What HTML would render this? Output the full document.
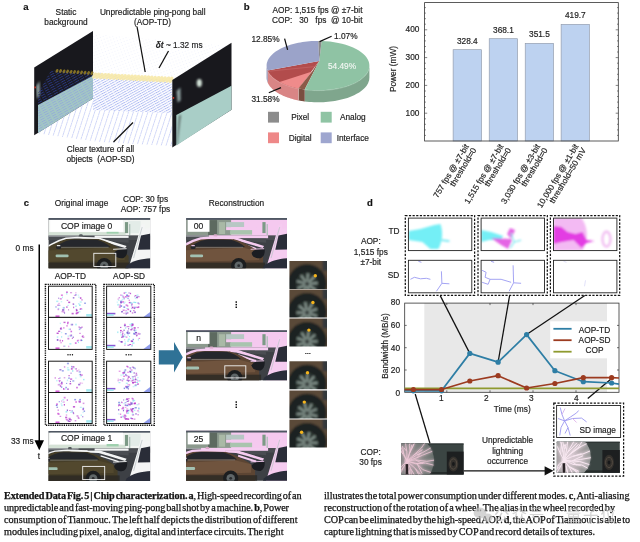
<!DOCTYPE html>
<html lang="en"><head><meta charset="utf-8"><title>Extended Data Fig. 5</title>
<style>html,body{margin:0;padding:0;background:#fff;}body{width:640px;height:542px;overflow:hidden;}svg{display:block;font-family:"Liberation Sans","Noto Sans CJK SC",sans-serif;}text{stroke:#222;stroke-width:0.18px;paint-order:stroke;}</style></head>
<body>
<svg width="640" height="542" viewBox="0 0 640 542">
<rect width="640" height="542" fill="#fff"/>
<defs>
<filter id="b03" x="-5%" y="-5%" width="110%" height="110%"><feGaussianBlur stdDeviation="0.35"/></filter>
<filter id="b06" x="-5%" y="-5%" width="110%" height="110%"><feGaussianBlur stdDeviation="0.8"/></filter>
<filter id="b08" x="-5%" y="-5%" width="110%" height="110%"><feGaussianBlur stdDeviation="0.8"/></filter>
<filter id="b1" x="-10%" y="-10%" width="120%" height="120%"><feGaussianBlur stdDeviation="1"/></filter>
<filter id="b2" x="-20%" y="-20%" width="140%" height="140%"><feGaussianBlur stdDeviation="2"/></filter>
<pattern id="dots" width="2.6" height="2.2" patternUnits="userSpaceOnUse" patternTransform="rotate(-32)">
 <rect x="0" y="0" width="1.5" height="0.7" fill="#7f8fe6"/>
</pattern>
<pattern id="dotsU" width="6" height="2.3" patternUnits="userSpaceOnUse" patternTransform="rotate(-29)">
 <rect x="0" y="0" width="6" height="0.9" fill="#a3b0f0"/><rect x="0" y="0" width="1" height="0.9" fill="#dfe4fb"/><rect x="3" y="0" width="0.8" height="0.9" fill="#c9d0f6"/>
</pattern>
<pattern id="dotsL" width="5" height="4.6" patternUnits="userSpaceOnUse" patternTransform="rotate(-72)">
 <rect x="0" y="0" width="5" height="0.8" fill="#bcc6f4"/><rect x="0" y="0" width="1.2" height="0.8" fill="#e6e9fc"/><rect x="2.8" y="0" width="0.8" height="0.8" fill="#dfe4fb"/>
</pattern>
<pattern id="dotsD" width="6" height="2.3" patternUnits="userSpaceOnUse" patternTransform="rotate(-29)">
 <rect x="0" y="0" width="6" height="0.9" fill="#2f3f9c"/><rect x="0" y="0" width="1.2" height="0.9" fill="#18181d"/>
</pattern>
<pattern id="dotsT" width="6" height="2.3" patternUnits="userSpaceOnUse" patternTransform="rotate(-29)">
 <rect x="0" y="0" width="6" height="0.9" fill="#8e9fe0"/><rect x="0" y="0" width="1.2" height="0.9" fill="#a3c8c2"/>
</pattern>
<pattern id="dotsf" width="3" height="3" patternUnits="userSpaceOnUse" patternTransform="rotate(-20)">
 <rect x="0" y="0" width="0.8" height="0.8" fill="#b9c3f2"/>
</pattern>
</defs>
<text x="26" y="10.4" font-size="9.6" text-anchor="middle" font-weight="bold" fill="#111" >a</text>
<text x="66" y="14.6" font-size="8.3" text-anchor="middle" font-weight="normal" fill="#222" >Static</text>
<text x="66" y="24.8" font-size="8.3" text-anchor="middle" font-weight="normal" fill="#222" >background</text>
<text x="152.7" y="14.6" font-size="8.3" text-anchor="middle" font-weight="normal" fill="#222" >Unpredictable ping-pong ball</text>
<text x="152.5" y="24.8" font-size="8.3" text-anchor="middle" font-weight="normal" fill="#222" >(AOP-TD)</text>
<text x="155.8" y="48" font-size="8.3" fill="#222"><tspan font-style="italic" font-weight="bold">δt</tspan> ~ 1.32 ms</text>
<polygon points="93,34 231,46 172,80 56,70" fill="url(#dotsf)" opacity="0.3"/>
<polygon points="34.2,67.5 93,31 93,98.5 34.2,135.2" fill="#18181d"/>
<polygon points="38,105 93,75.8 93,98.5 38,133" fill="#a3c8c2"/>
<g filter="url(#b08)">
<polygon points="36.2,86 39.6,81 40,95 37,99" fill="#9fb4b4" opacity="0.9"/>
</g>
<rect x="34.3" y="86.5" width="1.6" height="1.8" fill="#c0392b"/>
<polygon points="51,70.4 93,72.8 93,75.8 38,105 38,93" fill="url(#dotsD)" opacity="0.75"/>
<polygon points="38,105 93,75.8 93,98.5 38,133" fill="url(#dotsT)" opacity="0.7"/>
<polygon points="93,72.8 172,80.5 172,113 93,110" fill="url(#dotsU)" opacity="0.9"/>
<polygon points="38,133.5 93,98.5 93,110 172,113 172,146 100,142" fill="url(#dotsL)" opacity="0.9"/>
<ellipse cx="94.5" cy="75.6" rx="1.9" ry="3.4" fill="#f7e9a8" opacity="0.9" transform="rotate(28 94.5 75.6)"/>
<ellipse cx="97.8" cy="75.8" rx="1.9" ry="3.4" fill="#f7e9a8" opacity="0.9" transform="rotate(28 97.8 75.8)"/>
<ellipse cx="101.2" cy="76.0" rx="1.9" ry="3.4" fill="#f7e9a8" opacity="0.9" transform="rotate(28 101.2 76.0)"/>
<ellipse cx="104.5" cy="76.1" rx="1.9" ry="3.4" fill="#f7e9a8" opacity="0.9" transform="rotate(28 104.5 76.1)"/>
<ellipse cx="107.8" cy="76.3" rx="1.9" ry="3.4" fill="#f7e9a8" opacity="0.9" transform="rotate(28 107.8 76.3)"/>
<ellipse cx="111.1" cy="76.5" rx="1.9" ry="3.4" fill="#f7e9a8" opacity="0.9" transform="rotate(28 111.1 76.5)"/>
<ellipse cx="114.5" cy="76.7" rx="1.9" ry="3.4" fill="#f7e9a8" opacity="0.9" transform="rotate(28 114.5 76.7)"/>
<ellipse cx="117.8" cy="76.9" rx="1.9" ry="3.4" fill="#f7e9a8" opacity="0.9" transform="rotate(28 117.8 76.9)"/>
<ellipse cx="121.1" cy="77.1" rx="1.9" ry="3.4" fill="#f7e9a8" opacity="0.9" transform="rotate(28 121.1 77.1)"/>
<ellipse cx="124.4" cy="77.2" rx="1.9" ry="3.4" fill="#f7e9a8" opacity="0.9" transform="rotate(28 124.4 77.2)"/>
<ellipse cx="127.8" cy="77.4" rx="1.9" ry="3.4" fill="#f7e9a8" opacity="0.9" transform="rotate(28 127.8 77.4)"/>
<ellipse cx="131.1" cy="77.6" rx="1.9" ry="3.4" fill="#f7e9a8" opacity="0.9" transform="rotate(28 131.1 77.6)"/>
<ellipse cx="134.4" cy="77.8" rx="1.9" ry="3.4" fill="#f7e9a8" opacity="0.9" transform="rotate(28 134.4 77.8)"/>
<ellipse cx="137.7" cy="78.0" rx="1.9" ry="3.4" fill="#f7e9a8" opacity="0.9" transform="rotate(28 137.7 78.0)"/>
<ellipse cx="141.1" cy="78.2" rx="1.9" ry="3.4" fill="#f7e9a8" opacity="0.9" transform="rotate(28 141.1 78.2)"/>
<ellipse cx="144.4" cy="78.3" rx="1.9" ry="3.4" fill="#f7e9a8" opacity="0.9" transform="rotate(28 144.4 78.3)"/>
<ellipse cx="147.7" cy="78.5" rx="1.9" ry="3.4" fill="#f7e9a8" opacity="0.9" transform="rotate(28 147.7 78.5)"/>
<ellipse cx="151.0" cy="78.7" rx="1.9" ry="3.4" fill="#f7e9a8" opacity="0.9" transform="rotate(28 151.0 78.7)"/>
<ellipse cx="154.4" cy="78.9" rx="1.9" ry="3.4" fill="#f7e9a8" opacity="0.9" transform="rotate(28 154.4 78.9)"/>
<ellipse cx="157.7" cy="79.1" rx="1.9" ry="3.4" fill="#f7e9a8" opacity="0.9" transform="rotate(28 157.7 79.1)"/>
<ellipse cx="161.0" cy="79.3" rx="1.9" ry="3.4" fill="#f7e9a8" opacity="0.9" transform="rotate(28 161.0 79.3)"/>
<ellipse cx="164.3" cy="79.4" rx="1.9" ry="3.4" fill="#f7e9a8" opacity="0.9" transform="rotate(28 164.3 79.4)"/>
<ellipse cx="167.7" cy="79.6" rx="1.9" ry="3.4" fill="#f7e9a8" opacity="0.9" transform="rotate(28 167.7 79.6)"/>
<ellipse cx="171.0" cy="79.8" rx="1.9" ry="3.4" fill="#f7e9a8" opacity="0.9" transform="rotate(28 171.0 79.8)"/>
<ellipse cx="57.0" cy="70.8" rx="1.3" ry="2.0" fill="#8f7a26" opacity="0.9" transform="rotate(28 57.0 70.8)"/>
<ellipse cx="60.5" cy="71.0" rx="1.3" ry="2.0" fill="#8f7a26" opacity="0.9" transform="rotate(28 60.5 71.0)"/>
<ellipse cx="64.0" cy="71.3" rx="1.3" ry="2.0" fill="#8f7a26" opacity="0.9" transform="rotate(28 64.0 71.3)"/>
<ellipse cx="67.5" cy="71.5" rx="1.3" ry="2.0" fill="#8f7a26" opacity="0.9" transform="rotate(28 67.5 71.5)"/>
<ellipse cx="71.0" cy="71.8" rx="1.3" ry="2.0" fill="#8f7a26" opacity="0.9" transform="rotate(28 71.0 71.8)"/>
<ellipse cx="74.5" cy="72.0" rx="1.3" ry="2.0" fill="#8f7a26" opacity="0.9" transform="rotate(28 74.5 72.0)"/>
<ellipse cx="78.0" cy="72.2" rx="1.3" ry="2.0" fill="#8f7a26" opacity="0.9" transform="rotate(28 78.0 72.2)"/>
<ellipse cx="81.5" cy="72.5" rx="1.3" ry="2.0" fill="#8f7a26" opacity="0.9" transform="rotate(28 81.5 72.5)"/>
<ellipse cx="85.0" cy="72.7" rx="1.3" ry="2.0" fill="#8f7a26" opacity="0.9" transform="rotate(28 85.0 72.7)"/>
<ellipse cx="88.5" cy="73.0" rx="1.3" ry="2.0" fill="#8f7a26" opacity="0.9" transform="rotate(28 88.5 73.0)"/>
<ellipse cx="92.0" cy="73.2" rx="1.3" ry="2.0" fill="#8f7a26" opacity="0.9" transform="rotate(28 92.0 73.2)"/>
<polygon points="172.3,80 231.5,42.8 231.5,109.8 172.3,147.5" fill="#18181d"/>
<polygon points="176.3,115 231.5,85.8 231.5,109.8 176.3,145.4" fill="#a9cec7"/>
<g filter="url(#b08)">
<ellipse cx="199.3" cy="83" rx="2.6" ry="3.9" fill="#d3e2d8"/>
<polygon points="176.6,91 180.4,87.6 180.6,100.6 177.6,102.6" fill="#9fb4b4" opacity="0.9"/>
<polygon points="179,116 181,114.6 177.4,144 176.6,144" fill="#55605e"/>
</g>
<rect x="172.6" y="97" width="1.6" height="1.8" fill="#c0392b"/>
<g stroke="#111" stroke-width="1.25" fill="none">
<line x1="137" y1="26.5" x2="145.2" y2="72"/>
<line x1="168.5" y1="51" x2="159" y2="68"/>
<line x1="133" y1="122.5" x2="113.5" y2="142"/>
</g>
<text x="100.5" y="151.5" font-size="8.3" text-anchor="middle" font-weight="normal" fill="#222" >Clear texture of all</text>
<text x="100.5" y="161.8" font-size="8.3" text-anchor="middle" font-weight="normal" fill="#222" xml:space="preserve">objects  (AOP-SD)</text>
<text x="246.8" y="10.4" font-size="9.6" text-anchor="middle" font-weight="bold" fill="#111" >b</text>
<text x="317.5" y="12.5" font-size="8.3" text-anchor="middle" font-weight="normal" fill="#222" >AOP: 1,515 fps @ ±7-bit</text>
<text x="272" y="22.6" font-size="8.3" fill="#222" xml:space="preserve">COP:   30   fps  @ 10-bit</text>
<polygon points="369.4,65.6 369.3,66.7 369.2,67.9 368.9,69.0 368.5,70.1 368.1,71.2 367.5,72.3 366.8,73.4 366.0,74.5 365.1,75.5 364.1,76.5 363.0,77.5 361.8,78.5 360.5,79.5 359.2,80.4 357.7,81.3 356.2,82.1 354.6,83.0 352.9,83.7 351.1,84.5 349.3,85.2 347.4,85.9 345.4,86.5 343.4,87.1 341.3,87.6 339.2,88.1 337.0,88.5 334.8,88.9 332.6,89.3 330.3,89.6 328.0,89.8 325.7,90.0 323.4,90.2 321.0,90.3 318.7,90.3 316.3,90.3 314.0,90.2 311.6,90.1 309.3,89.9 307.0,89.7 304.7,89.5 304.7,101.5 307.0,101.7 309.3,101.9 311.6,102.1 314.0,102.2 316.3,102.3 318.7,102.3 321.0,102.3 323.4,102.2 325.7,102.0 328.0,101.8 330.3,101.6 332.6,101.3 334.8,100.9 337.0,100.5 339.2,100.1 341.3,99.6 343.4,99.1 345.4,98.5 347.4,97.9 349.3,97.2 351.1,96.5 352.9,95.7 354.6,95.0 356.2,94.1 357.7,93.3 359.2,92.4 360.5,91.5 361.8,90.5 363.0,89.5 364.1,88.5 365.1,87.5 366.0,86.5 366.8,85.4 367.5,84.3 368.1,83.2 368.5,82.1 368.9,81.0 369.2,79.9 369.3,78.7 369.4,77.6" fill="#7fa68d" />
<polygon points="304.7,89.5 304.5,89.4 304.4,89.4 304.2,89.4 304.1,89.4 303.9,89.4 303.7,89.3 303.6,89.3 303.4,89.3 303.3,89.3 303.1,89.2 302.9,89.2 302.8,89.2 302.6,89.2 302.5,89.1 302.3,89.1 302.2,89.1 302.0,89.1 301.8,89.0 301.7,89.0 301.5,89.0 301.4,89.0 301.2,88.9 301.0,88.9 300.9,88.9 300.7,88.9 300.6,88.8 300.4,88.8 300.3,88.8 300.1,88.8 300.0,88.7 299.8,88.7 299.6,88.7 299.5,88.6 299.3,88.6 299.2,88.6 299.0,88.6 298.9,88.5 298.7,88.5 298.6,88.5 298.4,88.4 298.4,100.4 298.6,100.5 298.7,100.5 298.9,100.5 299.0,100.6 299.2,100.6 299.3,100.6 299.5,100.6 299.6,100.7 299.8,100.7 300.0,100.7 300.1,100.8 300.3,100.8 300.4,100.8 300.6,100.8 300.7,100.9 300.9,100.9 301.0,100.9 301.2,100.9 301.4,101.0 301.5,101.0 301.7,101.0 301.8,101.0 302.0,101.1 302.2,101.1 302.3,101.1 302.5,101.1 302.6,101.2 302.8,101.2 302.9,101.2 303.1,101.2 303.3,101.3 303.4,101.3 303.6,101.3 303.7,101.3 303.9,101.4 304.1,101.4 304.2,101.4 304.4,101.4 304.5,101.4 304.7,101.5" fill="#7a4e40" />
<polygon points="298.4,88.4 297.2,88.2 296.1,87.9 295.0,87.7 293.8,87.4 292.7,87.1 291.6,86.8 290.5,86.5 289.5,86.1 288.4,85.8 287.4,85.4 286.4,85.1 285.4,84.7 284.4,84.3 283.5,83.9 282.6,83.5 281.7,83.1 280.8,82.6 279.9,82.2 279.1,81.7 278.3,81.3 277.5,80.8 276.7,80.3 276.0,79.8 275.2,79.3 274.5,78.8 273.9,78.3 273.2,77.7 272.6,77.2 272.1,76.7 271.5,76.1 271.0,75.6 270.5,75.0 270.0,74.4 269.6,73.9 269.2,73.3 268.8,72.7 268.4,72.1 268.1,71.5 267.8,71.0 267.6,70.4 267.6,82.4 267.8,83.0 268.1,83.5 268.4,84.1 268.8,84.7 269.2,85.3 269.6,85.9 270.0,86.4 270.5,87.0 271.0,87.6 271.5,88.1 272.1,88.7 272.6,89.2 273.2,89.7 273.9,90.3 274.5,90.8 275.2,91.3 276.0,91.8 276.7,92.3 277.5,92.8 278.3,93.3 279.1,93.7 279.9,94.2 280.8,94.6 281.7,95.1 282.6,95.5 283.5,95.9 284.4,96.3 285.4,96.7 286.4,97.1 287.4,97.4 288.4,97.8 289.5,98.1 290.5,98.5 291.6,98.8 292.7,99.1 293.8,99.4 295.0,99.7 296.1,99.9 297.2,100.2 298.4,100.4" fill="#d98585" />
<polygon points="267.6,70.4 267.5,70.2 267.5,70.1 267.4,70.0 267.4,69.9 267.3,69.8 267.3,69.6 267.3,69.5 267.2,69.4 267.2,69.3 267.1,69.2 267.1,69.1 267.1,68.9 267.0,68.8 267.0,68.7 267.0,68.6 266.9,68.5 266.9,68.3 266.9,68.2 266.9,68.1 266.8,68.0 266.8,67.9 266.8,67.8 266.8,67.6 266.8,67.5 266.7,67.4 266.7,67.3 266.7,67.2 266.7,67.0 266.7,66.9 266.7,66.8 266.6,66.7 266.6,66.6 266.6,66.4 266.6,66.3 266.6,66.2 266.6,66.1 266.6,66.0 266.6,65.8 266.6,65.7 266.6,65.6 266.6,77.6 266.6,77.7 266.6,77.8 266.6,78.0 266.6,78.1 266.6,78.2 266.6,78.3 266.6,78.4 266.6,78.6 266.6,78.7 266.7,78.8 266.7,78.9 266.7,79.0 266.7,79.2 266.7,79.3 266.7,79.4 266.8,79.5 266.8,79.6 266.8,79.8 266.8,79.9 266.8,80.0 266.9,80.1 266.9,80.2 266.9,80.3 266.9,80.5 267.0,80.6 267.0,80.7 267.0,80.8 267.1,80.9 267.1,81.1 267.1,81.2 267.2,81.3 267.2,81.4 267.3,81.5 267.3,81.6 267.3,81.8 267.4,81.9 267.4,82.0 267.5,82.1 267.5,82.2 267.6,82.4" fill="#8088ae" />
<polyline points="298.4,88.7 297.2,88.5 296.1,88.2 295.0,88.0 293.8,87.7 292.7,87.4 291.6,87.1 290.5,86.8 289.5,86.4 288.4,86.1 287.4,85.7 286.4,85.4 285.4,85.0 284.4,84.6 283.5,84.2 282.6,83.8 281.7,83.4 280.8,82.9 279.9,82.5 279.1,82.0 278.3,81.6 277.5,81.1 276.7,80.6 276.0,80.1 275.2,79.6 274.5,79.1 273.9,78.6 273.2,78.0 272.6,77.5 272.1,77.0 271.5,76.4 271.0,75.9 270.5,75.3 270.0,74.7 269.6,74.2 269.2,73.6 268.8,73.0 268.4,72.4 268.1,71.8 267.8,71.3 267.6,70.7" fill="none" stroke="#e8b0b0" stroke-width="0.6" opacity="0.8"/>
<polyline points="369.2,68.1 369.0,69.1 368.6,70.2 368.2,71.2 367.6,72.3 367.0,73.3 366.3,74.3 365.5,75.4 364.6,76.3 363.6,77.3 362.5,78.2 361.4,79.2 360.1,80.1 358.8,80.9 357.4,81.8 355.9,82.6 354.3,83.4 352.7,84.1 351.0,84.8 349.3,85.5 347.5,86.1 345.6,86.7 343.7,87.3 341.7,87.8 339.7,88.3 337.7,88.7 335.6,89.1 333.5,89.5 331.3,89.8 329.1,90.0 326.9,90.2 324.7,90.4 322.5,90.5 320.2,90.6 318.0,90.6 315.8,90.6 313.5,90.5 311.3,90.4 309.1,90.2 306.9,90.0 304.7,89.8" fill="none" stroke="#b5d8c2" stroke-width="0.6" opacity="0.8"/>
<polygon points="319.3,61.0 298.4,88.4 297.2,88.2 296.1,87.9 295.0,87.7 293.8,87.4 292.7,87.1 291.6,86.8 290.5,86.5 289.5,86.1 288.4,85.8 287.4,85.4 286.4,85.1 285.4,84.7 284.4,84.3 283.5,83.9 282.6,83.5 281.7,83.1 280.8,82.6 279.9,82.2 279.1,81.7 278.3,81.3 277.5,80.8 276.7,80.3 276.0,79.8 275.2,79.3 274.5,78.8 273.9,78.3 273.2,77.7 272.6,77.2 272.1,76.7 271.5,76.1 271.0,75.6 270.5,75.0 270.0,74.4 269.6,73.9 269.2,73.3 268.8,72.7 268.4,72.1 268.1,71.5 267.8,71.0 267.6,70.4" fill="#b24c4c" />
<polygon points="312.1,71.6 298.4,88.4 297.9,88.3 297.3,88.2 296.8,88.1 296.3,88.0 295.8,87.9 295.2,87.7 294.7,87.6 294.2,87.5 293.7,87.4 293.2,87.2 292.7,87.1 292.2,87.0 291.7,86.8 291.2,86.7 290.7,86.5 290.2,86.4 289.7,86.2 289.2,86.1 288.7,85.9 288.3,85.7 287.8,85.6 287.3,85.4 286.9,85.3 286.4,85.1 285.9,84.9 285.5,84.7 285.0,84.6 284.6,84.4 284.2,84.2 283.7,84.0 283.3,83.8 282.9,83.6 282.4,83.4 282.0,83.2 281.6,83.0 281.2,82.8 280.8,82.6 280.4,82.4 280.0,82.2 279.6,82.0" fill="#ef8b8b" />
<line x1="267.8" y1="71.3" x2="316.0" y2="66.5" stroke="#c76a6a" stroke-width="0.6"/>
<polygon points="319.3,61.0 312.1,71.6 298.4,88.4 304.7,89.5" fill="#8b5a48" />
<line x1="298.4" y1="88.4" x2="298.4" y2="100.4" stroke="#e9d5cc" stroke-width="0.5" opacity="0.8"/>
<polygon points="319.3,61.0 321.6,41.0 325.8,41.2 330.0,41.6 334.2,42.2 338.2,42.9 342.0,43.8 345.7,44.8 349.2,46.0 352.5,47.3 355.6,48.7 358.4,50.3 360.9,52.0 363.1,53.7 365.0,55.6 366.6,57.5 367.8,59.5 368.7,61.5 369.2,63.5 369.4,65.6 369.2,67.6 368.7,69.7 367.8,71.7 366.6,73.7 365.0,75.6 363.1,77.4 360.9,79.2 358.4,80.9 355.6,82.4 352.6,83.9 349.3,85.2 345.8,86.4 342.1,87.4 338.2,88.3 334.2,89.0 330.1,89.6 325.9,90.0 321.7,90.2 317.4,90.3 313.1,90.2 308.9,89.9 304.7,89.5" fill="#8fc3a4" />
<polygon points="319.3,61.0 267.6,70.4 267.2,69.3 266.9,68.2 266.7,67.1 266.6,66.0 266.6,64.9 266.7,63.8 266.9,62.7 267.3,61.7 267.7,60.6 268.2,59.5 268.8,58.5 269.5,57.4 270.3,56.4 271.2,55.4 272.2,54.4 273.2,53.5 274.4,52.5 275.7,51.6 277.0,50.7 278.4,49.9 279.9,49.0 281.4,48.2 283.1,47.5 284.8,46.8 286.5,46.1 288.4,45.4 290.3,44.8 292.2,44.2 294.2,43.7 296.2,43.2 298.3,42.8 300.4,42.4 302.6,42.0 304.8,41.7 307.0,41.5 309.2,41.3 311.5,41.1 313.7,41.0 316.0,40.9 318.3,40.9" fill="#9ba3c9" />
<polygon points="319.3,61.0 318.3,40.9 318.4,40.9 318.4,40.9 318.5,40.9 318.6,40.9 318.7,40.9 318.8,40.9 318.8,40.9 318.9,40.9 319.0,40.9 319.1,40.9 319.2,40.9 319.3,40.9 319.3,40.9 319.4,40.9 319.5,40.9 319.6,40.9 319.7,40.9 319.8,40.9 319.8,40.9 319.9,40.9 320.0,40.9 320.1,40.9 320.2,40.9 320.3,40.9 320.3,40.9 320.4,40.9 320.5,40.9 320.6,40.9 320.7,40.9 320.8,40.9 320.8,40.9 320.9,40.9 321.0,40.9 321.1,40.9 321.2,40.9 321.3,40.9 321.3,41.0 321.4,41.0 321.5,41.0 321.6,41.0" fill="#8a8a8a" />
<text x="342" y="68.6" font-size="8.3" text-anchor="middle" font-weight="normal" fill="#f4f7f4" style="stroke:#f4f7f4;stroke-width:0.12px">54.49%</text>
<text x="265.5" y="41.6" font-size="8.3" text-anchor="middle" font-weight="normal" fill="#222" >12.85%</text>
<text x="345.8" y="38.8" font-size="8.3" text-anchor="middle" font-weight="normal" fill="#222" >1.07%</text>
<text x="265.5" y="101.8" font-size="8.3" text-anchor="middle" font-weight="normal" fill="#222" >31.58%</text>
<g stroke="#111" stroke-width="1.25" fill="none">
<line x1="284.6" y1="38.6" x2="287.6" y2="49.8"/>
<line x1="331.6" y1="36.2" x2="319.6" y2="41.6"/>
<line x1="268.8" y1="92.8" x2="281" y2="87.6"/>
</g>
<rect x="268" y="111.8" width="11" height="10.8" fill="#8c8c8c"/>
<text x="300.2" y="120.0" font-size="8.3" text-anchor="middle" font-weight="normal" fill="#222" >Pixel</text>
<rect x="320.7" y="111.8" width="11" height="10.8" fill="#8fc4a4"/>
<text x="352.8" y="120.0" font-size="8.3" text-anchor="middle" font-weight="normal" fill="#222" >Analog</text>
<rect x="268" y="132.4" width="11" height="10.8" fill="#ee8888"/>
<text x="300.2" y="140.6" font-size="8.3" text-anchor="middle" font-weight="normal" fill="#222" >Digital</text>
<rect x="320.7" y="132.4" width="11" height="10.8" fill="#9ea6cf"/>
<text x="352.8" y="140.6" font-size="8.3" text-anchor="middle" font-weight="normal" fill="#222" >Interface</text>
<rect x="453.1" y="49.7" width="28.5" height="91.3" fill="#bdd2f0" stroke="#8d95a3" stroke-width="0.6"/>
<text x="467.35" y="43.70479999999999" font-size="8.3" text-anchor="middle" font-weight="normal" fill="#222" >328.4</text>
<rect x="489.2" y="38.7" width="28.4" height="102.3" fill="#bdd2f0" stroke="#8d95a3" stroke-width="0.6"/>
<text x="503.4" y="32.668199999999985" font-size="8.3" text-anchor="middle" font-weight="normal" fill="#222" >368.1</text>
<rect x="525.2" y="43.3" width="28.4" height="97.7" fill="#bdd2f0" stroke="#8d95a3" stroke-width="0.6"/>
<text x="539.4000000000001" y="37.28299999999999" font-size="8.3" text-anchor="middle" font-weight="normal" fill="#222" >351.5</text>
<rect x="561.1" y="24.3" width="28.4" height="116.7" fill="#bdd2f0" stroke="#8d95a3" stroke-width="0.6"/>
<text x="575.3" y="18.323399999999992" font-size="8.3" text-anchor="middle" font-weight="normal" fill="#222" >419.7</text>
<rect x="424.6" y="2.6" width="193.69999999999993" height="138.4" fill="none" stroke="#333" stroke-width="0.8"/>
<line x1="424.6" y1="135.4" x2="425.90000000000003" y2="135.4" stroke="#333" stroke-width="0.6"/>
<line x1="618.3" y1="135.4" x2="617.0" y2="135.4" stroke="#333" stroke-width="0.6"/>
<line x1="424.6" y1="129.9" x2="425.90000000000003" y2="129.9" stroke="#333" stroke-width="0.6"/>
<line x1="618.3" y1="129.9" x2="617.0" y2="129.9" stroke="#333" stroke-width="0.6"/>
<line x1="424.6" y1="124.3" x2="425.90000000000003" y2="124.3" stroke="#333" stroke-width="0.6"/>
<line x1="618.3" y1="124.3" x2="617.0" y2="124.3" stroke="#333" stroke-width="0.6"/>
<line x1="424.6" y1="118.8" x2="425.90000000000003" y2="118.8" stroke="#333" stroke-width="0.6"/>
<line x1="618.3" y1="118.8" x2="617.0" y2="118.8" stroke="#333" stroke-width="0.6"/>
<line x1="424.6" y1="113.2" x2="427.20000000000005" y2="113.2" stroke="#333" stroke-width="0.6"/>
<line x1="618.3" y1="113.2" x2="615.6999999999999" y2="113.2" stroke="#333" stroke-width="0.6"/>
<text x="419.40000000000003" y="116.3" font-size="8.3" text-anchor="end" font-weight="normal" fill="#222" >100</text>
<line x1="424.6" y1="107.6" x2="425.90000000000003" y2="107.6" stroke="#333" stroke-width="0.6"/>
<line x1="618.3" y1="107.6" x2="617.0" y2="107.6" stroke="#333" stroke-width="0.6"/>
<line x1="424.6" y1="102.1" x2="425.90000000000003" y2="102.1" stroke="#333" stroke-width="0.6"/>
<line x1="618.3" y1="102.1" x2="617.0" y2="102.1" stroke="#333" stroke-width="0.6"/>
<line x1="424.6" y1="96.5" x2="425.90000000000003" y2="96.5" stroke="#333" stroke-width="0.6"/>
<line x1="618.3" y1="96.5" x2="617.0" y2="96.5" stroke="#333" stroke-width="0.6"/>
<line x1="424.6" y1="91.0" x2="425.90000000000003" y2="91.0" stroke="#333" stroke-width="0.6"/>
<line x1="618.3" y1="91.0" x2="617.0" y2="91.0" stroke="#333" stroke-width="0.6"/>
<line x1="424.6" y1="85.4" x2="427.20000000000005" y2="85.4" stroke="#333" stroke-width="0.6"/>
<line x1="618.3" y1="85.4" x2="615.6999999999999" y2="85.4" stroke="#333" stroke-width="0.6"/>
<text x="419.40000000000003" y="88.0" font-size="8.3" text-anchor="end" font-weight="normal" fill="#222" >200</text>
<line x1="424.6" y1="79.8" x2="425.90000000000003" y2="79.8" stroke="#333" stroke-width="0.6"/>
<line x1="618.3" y1="79.8" x2="617.0" y2="79.8" stroke="#333" stroke-width="0.6"/>
<line x1="424.6" y1="74.3" x2="425.90000000000003" y2="74.3" stroke="#333" stroke-width="0.6"/>
<line x1="618.3" y1="74.3" x2="617.0" y2="74.3" stroke="#333" stroke-width="0.6"/>
<line x1="424.6" y1="68.7" x2="425.90000000000003" y2="68.7" stroke="#333" stroke-width="0.6"/>
<line x1="618.3" y1="68.7" x2="617.0" y2="68.7" stroke="#333" stroke-width="0.6"/>
<line x1="424.6" y1="63.2" x2="425.90000000000003" y2="63.2" stroke="#333" stroke-width="0.6"/>
<line x1="618.3" y1="63.2" x2="617.0" y2="63.2" stroke="#333" stroke-width="0.6"/>
<line x1="424.6" y1="57.6" x2="427.20000000000005" y2="57.6" stroke="#333" stroke-width="0.6"/>
<line x1="618.3" y1="57.6" x2="615.6999999999999" y2="57.6" stroke="#333" stroke-width="0.6"/>
<text x="419.40000000000003" y="59.6" font-size="8.3" text-anchor="end" font-weight="normal" fill="#222" >300</text>
<line x1="424.6" y1="52.0" x2="425.90000000000003" y2="52.0" stroke="#333" stroke-width="0.6"/>
<line x1="618.3" y1="52.0" x2="617.0" y2="52.0" stroke="#333" stroke-width="0.6"/>
<line x1="424.6" y1="46.5" x2="425.90000000000003" y2="46.5" stroke="#333" stroke-width="0.6"/>
<line x1="618.3" y1="46.5" x2="617.0" y2="46.5" stroke="#333" stroke-width="0.6"/>
<line x1="424.6" y1="40.9" x2="425.90000000000003" y2="40.9" stroke="#333" stroke-width="0.6"/>
<line x1="618.3" y1="40.9" x2="617.0" y2="40.9" stroke="#333" stroke-width="0.6"/>
<line x1="424.6" y1="35.4" x2="425.90000000000003" y2="35.4" stroke="#333" stroke-width="0.6"/>
<line x1="618.3" y1="35.4" x2="617.0" y2="35.4" stroke="#333" stroke-width="0.6"/>
<line x1="424.6" y1="29.8" x2="427.20000000000005" y2="29.8" stroke="#333" stroke-width="0.6"/>
<line x1="618.3" y1="29.8" x2="615.6999999999999" y2="29.8" stroke="#333" stroke-width="0.6"/>
<text x="419.40000000000003" y="31.8" font-size="8.3" text-anchor="end" font-weight="normal" fill="#222" >400</text>
<line x1="424.6" y1="24.2" x2="425.90000000000003" y2="24.2" stroke="#333" stroke-width="0.6"/>
<line x1="618.3" y1="24.2" x2="617.0" y2="24.2" stroke="#333" stroke-width="0.6"/>
<line x1="424.6" y1="18.7" x2="425.90000000000003" y2="18.7" stroke="#333" stroke-width="0.6"/>
<line x1="618.3" y1="18.7" x2="617.0" y2="18.7" stroke="#333" stroke-width="0.6"/>
<line x1="424.6" y1="13.1" x2="425.90000000000003" y2="13.1" stroke="#333" stroke-width="0.6"/>
<line x1="618.3" y1="13.1" x2="617.0" y2="13.1" stroke="#333" stroke-width="0.6"/>
<line x1="424.6" y1="7.6" x2="425.90000000000003" y2="7.6" stroke="#333" stroke-width="0.6"/>
<line x1="618.3" y1="7.6" x2="617.0" y2="7.6" stroke="#333" stroke-width="0.6"/>
<text transform="translate(396.2,69) rotate(-90)" font-size="8.3" text-anchor="middle" fill="#222">Power (mW)</text>
<g transform="translate(469.2,146.3) rotate(-59)" font-size="8.3" fill="#222" text-anchor="end"><text x="0" y="0">757 fps @ ±7-bit</text><text x="0.7" y="8.3">threshold=0</text></g>
<g transform="translate(503.8,146.3) rotate(-59)" font-size="8.3" fill="#222" text-anchor="end"><text x="0" y="0">1,515 fps @ ±7-bit</text><text x="0.7" y="8.3">threshold=0</text></g>
<g transform="translate(540.5,146.3) rotate(-59)" font-size="8.3" fill="#222" text-anchor="end"><text x="0" y="0">3,030 fps @ ±3-bit</text><text x="0.7" y="8.3">threshold=0</text></g>
<g transform="translate(578.8,146.3) rotate(-59)" font-size="8.3" fill="#222" text-anchor="end"><text x="0" y="0">10,000 fps @ ±1-bit</text><text x="0.7" y="8.3">threshold=50 mV</text></g>
<text x="26.3" y="206.2" font-size="9.5" text-anchor="middle" font-weight="bold" fill="#111" >c</text>
<text x="81.5" y="206" font-size="8.3" text-anchor="middle" font-weight="normal" fill="#222" >Original image</text>
<text x="145.5" y="201.8" font-size="8.3" text-anchor="middle" font-weight="normal" fill="#222" >COP: 30 fps</text>
<text x="145.5" y="212" font-size="8.3" text-anchor="middle" font-weight="normal" fill="#222" >AOP: 757 fps</text>
<text x="236.5" y="206" font-size="8.3" text-anchor="middle" font-weight="normal" fill="#222" >Reconstruction</text>
<clipPath id="c1"><rect x="48.6" y="218.1" width="101.5" height="50.1"/></clipPath>
<g clip-path="url(#c1)"><g transform="translate(48.6,218.1)">
<rect x="-3" y="-3" width="107.5" height="56.1" fill="#3d4045"/>
<rect x="-3" y="-3" width="107.5" height="20.6" fill="#f2f5f2"/>
<rect x="-3" y="14" width="80" height="3.6" fill="#d5e2d6"/>
<rect x="58" y="12.5" width="12" height="3" fill="#9fd0ae"/>
<rect x="80" y="3" width="12" height="12" fill="#e3ece8"/>
<rect x="-3" y="-3" width="107.5" height="4.8" fill="#4f5763"/>
<rect x="76.3" y="4" width="3.2" height="11" fill="#7c9a86"/>
<rect x="80.5" y="6" width="1.2" height="12" fill="#a9bdb4"/>
<rect x="-3" y="17.4" width="107.5" height="4.5" fill="#4a4d52"/>
<path d="M-3,18 L30,18" stroke="#c9cdd0" stroke-width="0.8"/>
<path d="M30,19.6 L52,19.8 L78,27.8 L76.5,30 L62,25.6 L50,22.2 L34,21 Z" fill="#f4f5f5"/>
<path d="M52,25 L70,30.8" stroke="#f4f5f5" stroke-width="1.3"/>
<rect x="46" y="17.6" width="34" height="2.2" fill="#f4f5f5"/>
<path d="M54,20.4 L80,20.6 L80,24.6 L67,23.6 Z" fill="#4a4d52"/>
<g transform="translate(0,0)">
<rect x="30.5" y="16.2" width="3.6" height="3.6" rx="1" fill="#555a5c"/>
<path d="M-14,36 C-4,30 6,24 17,21 L30,20.4 L50,21 C58,23 66,27.5 74,32 L80,38 L80,53 L-14,53 Z" fill="#463e28"/>
<path d="M-14,33 L60,29.6 L76,33.5 L76,42 L-14,44 Z" fill="#52482e"/>
<path d="M-12,36 C-2,29 6,23.2 17.5,20.2 L30,19.4 L50,20" fill="none" stroke="#f4f5f5" stroke-width="1.4"/>
<path d="M8,28.6 C13,24.2 18,21.8 26,21.3 L48,21.6 C53,22.8 58,25.4 62,28.8 Z" fill="#25272c"/>
<path d="M11,29.3 L60,29.2" stroke="#8d9092" stroke-width="0.7" opacity="0.8"/>
<rect x="7.5" y="27.3" width="5" height="3.6" rx="1.5" fill="#25272c"/>
<rect x="8.3" y="27" width="3.4" height="1.1" fill="#f4f5f5"/>
<rect x="-14" y="44.5" width="96" height="9" fill="#2a2823" opacity="0.8"/>
<rect x="7" y="36.4" width="13" height="2.8" rx="1.2" fill="#a9cdbf" opacity="0.9"/>
<circle cx="55.6" cy="47.4" r="7.6" fill="#1c1e20"/>
<circle cx="55.6" cy="47.6" r="4.2" fill="#5f6668"/>
<circle cx="55.6" cy="47.6" r="1.4" fill="#2a2c2f"/>
</g>
<path d="M79,53 L83,40 L88.5,22 L92.5,7 L96,5.6 L96,11 L104,9 L104,53 Z" fill="#f4f5f5"/>
<path d="M85,40 L90.4,20 L93.6,9" fill="none" stroke="#b9c3c6" stroke-width="0.9" opacity="0.8"/>
<path d="M92.4,17.4 L104,15 L104,31.4 L89.2,31.6 Z" fill="#2a2d38"/>
<path d="M75.5,53 L78,47.5 C84,42.5 94,40.2 104,40 L104,53 Z" fill="#292d39"/>
<path d="M65.5,35 C67,31.6 72,30.6 78.6,31.4 C79,35 77.5,39 74.5,40.2 C70,40.6 66,39 65.5,35 Z" fill="#1b1d22"/>
<path d="M64.5,31.2 L78,30.6" stroke="#f4f5f5" stroke-width="0.9"/>
</g></g>
<rect x="50.2" y="220.0" width="72.8" height="11.8" fill="#fff"/>
<text x="86.6" y="229.0" font-size="8.6" text-anchor="middle" font-weight="normal" fill="#222" >COP image 0</text>
<rect x="93.8" y="253.3" width="22" height="13.2" fill="none" stroke="#f2f2f2" stroke-width="0.9"/>
<text x="33.6" y="250.6" font-size="8.3" text-anchor="end" font-weight="normal" fill="#222" >0 ms</text>
<line x1="39.25" y1="244.6" x2="39.25" y2="442" stroke="#000" stroke-width="1.5"/>
<polygon points="34.5,440.3 44,440.3 39.25,450.2" fill="#000"/>
<text x="33.6" y="443.9" font-size="8.3" text-anchor="end" font-weight="normal" fill="#222" >33 ms</text>
<text x="39" y="458.6" font-size="8.3" text-anchor="middle" font-weight="normal" fill="#222" >t</text>
<text x="70.4" y="279" font-size="8.3" text-anchor="middle" font-weight="normal" fill="#222" >AOP-TD</text>
<text x="129" y="279" font-size="8.3" text-anchor="middle" font-weight="normal" fill="#222" >AOP-SD</text>
<rect x="45.4" y="284.4" width="50.4" height="140.8" fill="none" stroke="#111" stroke-width="1.4" stroke-dasharray="1.32 0.9"/>
<rect x="103.9" y="284.4" width="50.4" height="140.8" fill="none" stroke="#111" stroke-width="1.4" stroke-dasharray="1.32 0.9"/>
<clipPath id="c2"><rect x="48.5" y="286.2" width="43.7" height="31.2"/></clipPath>
<rect x="48.5" y="286.2" width="43.7" height="31.2" fill="#fff"/>
<g clip-path="url(#c2)">
<rect x="59.8" y="298.1" width="2.0" height="1.5" fill="#b02fc6" opacity="0.52"/>
<rect x="56.2" y="300.6" width="2.1" height="1.5" fill="#86e4f0" opacity="0.61"/>
<rect x="57.9" y="307.8" width="1.5" height="1.5" fill="#a9ecf4" opacity="0.75"/>
<rect x="78.3" y="311.0" width="2.2" height="1.4" fill="#86e4f0" opacity="0.47"/>
<rect x="84.1" y="302.6" width="1.9" height="1.2" fill="#6a78e0" opacity="0.75"/>
<rect x="55.0" y="306.4" width="2.0" height="1.1" fill="#6a78e0" opacity="0.55"/>
<rect x="57.5" y="308.6" width="1.6" height="1.6" fill="#c23fd2" opacity="0.52"/>
<rect x="58.1" y="297.5" width="1.1" height="1.5" fill="#7a3fc9" opacity="0.49"/>
<rect x="76.4" y="312.6" width="1.5" height="1.5" fill="#d65fda" opacity="0.51"/>
<rect x="60.7" y="301.2" width="1.5" height="1.1" fill="#a9ecf4" opacity="0.74"/>
<rect x="75.2" y="292.1" width="1.3" height="1.4" fill="#d65fda" opacity="0.47"/>
<rect x="78.1" y="296.5" width="1.5" height="1.4" fill="#a9ecf4" opacity="0.63"/>
<rect x="77.6" y="294.5" width="1.6" height="1.4" fill="#a9ecf4" opacity="0.48"/>
<rect x="58.4" y="302.9" width="1.2" height="1.4" fill="#d65fda" opacity="0.61"/>
<rect x="62.8" y="307.2" width="2.0" height="1.3" fill="#b02fc6" opacity="0.48"/>
<rect x="66.3" y="306.3" width="1.2" height="1.6" fill="#b02fc6" opacity="0.80"/>
<rect x="79.9" y="297.3" width="1.5" height="1.5" fill="#b02fc6" opacity="0.86"/>
<rect x="77.0" y="311.9" width="1.8" height="1.4" fill="#b02fc6" opacity="0.71"/>
<rect x="73.9" y="294.8" width="2.0" height="1.2" fill="#d65fda" opacity="0.58"/>
<rect x="80.0" y="308.3" width="2.2" height="1.2" fill="#c23fd2" opacity="0.75"/>
<rect x="75.8" y="308.8" width="1.2" height="1.4" fill="#6a78e0" opacity="0.64"/>
<rect x="79.7" y="301.4" width="2.1" height="1.3" fill="#a9ecf4" opacity="0.78"/>
<rect x="66.1" y="293.2" width="1.3" height="1.3" fill="#86e4f0" opacity="0.73"/>
<rect x="60.9" y="294.4" width="2.0" height="1.6" fill="#d65fda" opacity="0.74"/>
<rect x="72.5" y="303.5" width="1.5" height="1.1" fill="#b02fc6" opacity="0.79"/>
<rect x="57.2" y="304.6" width="1.6" height="1.2" fill="#b02fc6" opacity="0.65"/>
<rect x="62.9" y="311.4" width="1.7" height="1.1" fill="#b02fc6" opacity="0.69"/>
<rect x="62.1" y="309.1" width="2.2" height="1.7" fill="#7a3fc9" opacity="0.77"/>
<rect x="73.2" y="303.6" width="1.1" height="1.3" fill="#6a78e0" opacity="0.62"/>
<rect x="61.9" y="296.6" width="1.1" height="1.6" fill="#a9ecf4" opacity="0.87"/>
<rect x="71.6" y="312.8" width="2.1" height="1.6" fill="#b02fc6" opacity="0.72"/>
<rect x="62.8" y="306.9" width="1.6" height="1.6" fill="#86e4f0" opacity="0.79"/>
<rect x="81.5" y="299.2" width="1.0" height="1.3" fill="#b02fc6" opacity="0.87"/>
<rect x="64.0" y="312.2" width="1.1" height="1.6" fill="#7a3fc9" opacity="0.61"/>
<rect x="75.8" y="311.4" width="1.5" height="1.4" fill="#c23fd2" opacity="0.61"/>
<rect x="75.9" y="309.5" width="1.7" height="1.5" fill="#b02fc6" opacity="0.89"/>
<rect x="75.8" y="313.1" width="1.5" height="1.1" fill="#b02fc6" opacity="0.74"/>
<rect x="79.0" y="304.3" width="1.7" height="1.7" fill="#86e4f0" opacity="0.81"/>
<rect x="67.5" y="304.8" width="1.1" height="1.1" fill="#86e4f0" opacity="0.74"/>
<rect x="61.5" y="310.8" width="1.5" height="1.5" fill="#b02fc6" opacity="0.48"/>
<rect x="70.0" y="292.1" width="2.1" height="1.2" fill="#b02fc6" opacity="0.47"/>
<rect x="72.8" y="297.0" width="1.6" height="1.6" fill="#7a3fc9" opacity="0.63"/>
<rect x="75.0" y="305.5" width="1.9" height="1.4" fill="#a9ecf4" opacity="0.83"/>
<rect x="79.4" y="308.5" width="1.7" height="1.4" fill="#b02fc6" opacity="0.46"/>
<rect x="73.1" y="306.6" width="1.1" height="1.6" fill="#b02fc6" opacity="0.71"/>
<rect x="68.0" y="309.0" width="1.1" height="1.6" fill="#b02fc6" opacity="0.46"/>
<rect x="75.2" y="294.2" width="1.4" height="1.3" fill="#6a78e0" opacity="0.80"/>
<rect x="78.2" y="303.2" width="1.3" height="1.2" fill="#86e4f0" opacity="0.73"/>
<rect x="68.2" y="301.6" width="2.0" height="1.5" fill="#b02fc6" opacity="0.80"/>
<rect x="75.7" y="312.9" width="1.0" height="1.3" fill="#c23fd2" opacity="0.75"/>
<rect x="66.7" y="299.8" width="1.5" height="1.1" fill="#b02fc6" opacity="0.63"/>
<rect x="58.6" y="304.8" width="1.8" height="1.1" fill="#6a78e0" opacity="0.56"/>
<rect x="81.2" y="308.9" width="1.2" height="1.1" fill="#a9ecf4" opacity="0.50"/>
<rect x="66.1" y="291.5" width="1.7" height="1.4" fill="#b02fc6" opacity="0.79"/>
<rect x="86.2" y="314.0" width="6" height="2.6" fill="#a6e9f1"/>
<rect x="55.5" y="315.4" width="4" height="2" fill="#d65fda"/>
</g>
<rect x="48.5" y="286.2" width="43.7" height="31.2" fill="none" stroke="#1a1a1a" stroke-width="1"/>
<clipPath id="c3"><rect x="106.6" y="286.2" width="44.2" height="31.2"/></clipPath>
<rect x="106.6" y="286.2" width="44.2" height="31.2" fill="#fff"/>
<g clip-path="url(#c3)">
<rect x="136.1" y="296.7" width="1.3" height="1.4" fill="#7a3fc9" opacity="0.86"/>
<rect x="134.3" y="295.9" width="1.0" height="1.3" fill="#7a3fc9" opacity="0.48"/>
<rect x="133.7" y="308.0" width="1.5" height="1.1" fill="#b02fc6" opacity="0.73"/>
<rect x="125.0" y="296.0" width="1.8" height="1.6" fill="#c23fd2" opacity="0.67"/>
<rect x="135.8" y="306.7" width="1.2" height="1.1" fill="#b02fc6" opacity="0.56"/>
<rect x="128.7" y="295.9" width="1.2" height="1.1" fill="#a9ecf4" opacity="0.46"/>
<rect x="124.9" y="291.9" width="1.7" height="1.0" fill="#86e4f0" opacity="0.81"/>
<rect x="123.3" y="298.1" width="1.7" height="1.3" fill="#6a78e0" opacity="0.52"/>
<rect x="122.5" y="295.6" width="1.2" height="1.3" fill="#d65fda" opacity="0.77"/>
<rect x="131.0" y="305.2" width="1.4" height="1.1" fill="#d65fda" opacity="0.72"/>
<rect x="120.0" y="301.4" width="2.0" height="1.1" fill="#7a3fc9" opacity="0.85"/>
<rect x="137.3" y="302.4" width="1.8" height="1.3" fill="#6a78e0" opacity="0.66"/>
<rect x="128.5" y="292.3" width="1.1" height="1.3" fill="#7a3fc9" opacity="0.60"/>
<rect x="137.1" y="306.7" width="1.4" height="1.4" fill="#c23fd2" opacity="0.88"/>
<rect x="129.9" y="292.8" width="1.2" height="1.4" fill="#b02fc6" opacity="0.77"/>
<rect x="133.9" y="311.5" width="2.1" height="1.6" fill="#7a3fc9" opacity="0.64"/>
<rect x="130.9" y="304.6" width="1.2" height="1.2" fill="#86e4f0" opacity="0.59"/>
<rect x="117.5" y="298.6" width="1.5" height="1.0" fill="#c23fd2" opacity="0.53"/>
<rect x="122.7" y="296.7" width="2.1" height="1.2" fill="#c23fd2" opacity="0.61"/>
<rect x="125.3" y="311.6" width="1.0" height="1.0" fill="#c23fd2" opacity="0.62"/>
<rect x="127.1" y="296.2" width="2.0" height="1.0" fill="#b02fc6" opacity="0.66"/>
<rect x="128.8" y="301.9" width="2.1" height="1.4" fill="#c23fd2" opacity="0.89"/>
<rect x="126.7" y="297.2" width="1.7" height="1.7" fill="#a9ecf4" opacity="0.45"/>
<rect x="133.2" y="301.7" width="1.7" height="1.3" fill="#86e4f0" opacity="0.72"/>
<rect x="121.8" y="298.6" width="1.5" height="1.6" fill="#a9ecf4" opacity="0.51"/>
<rect x="120.0" y="294.6" width="1.5" height="1.0" fill="#d65fda" opacity="0.80"/>
<rect x="119.4" y="304.4" width="1.4" height="1.5" fill="#b02fc6" opacity="0.58"/>
<rect x="134.6" y="301.9" width="1.7" height="1.2" fill="#86e4f0" opacity="0.89"/>
<rect x="127.9" y="295.1" width="1.6" height="1.4" fill="#c23fd2" opacity="0.58"/>
<rect x="127.4" y="298.0" width="1.4" height="1.1" fill="#6a78e0" opacity="0.55"/>
<rect x="121.9" y="301.2" width="2.2" height="1.5" fill="#d65fda" opacity="0.83"/>
<rect x="134.8" y="297.6" width="1.7" height="1.5" fill="#a9ecf4" opacity="0.74"/>
<rect x="126.6" y="312.1" width="1.8" height="1.6" fill="#b02fc6" opacity="0.67"/>
<rect x="121.1" y="311.0" width="1.8" height="1.5" fill="#7a3fc9" opacity="0.76"/>
<rect x="117.9" y="299.7" width="1.8" height="1.4" fill="#a9ecf4" opacity="0.62"/>
<rect x="129.6" y="310.3" width="2.0" height="1.4" fill="#a9ecf4" opacity="0.87"/>
<rect x="131.9" y="306.7" width="1.7" height="1.6" fill="#b02fc6" opacity="0.85"/>
<rect x="131.1" y="307.7" width="1.1" height="1.2" fill="#6a78e0" opacity="0.49"/>
<rect x="126.8" y="305.3" width="1.6" height="1.3" fill="#b02fc6" opacity="0.63"/>
<rect x="134.7" y="295.0" width="1.8" height="1.1" fill="#c23fd2" opacity="0.77"/>
<rect x="120.3" y="302.0" width="1.5" height="1.5" fill="#7a3fc9" opacity="0.80"/>
<rect x="123.5" y="302.8" width="1.2" height="1.1" fill="#86e4f0" opacity="0.65"/>
<rect x="117.2" y="304.5" width="1.8" height="1.1" fill="#a9ecf4" opacity="0.55"/>
<rect x="136.5" y="295.8" width="2.0" height="1.1" fill="#a9ecf4" opacity="0.58"/>
<rect x="120.5" y="305.3" width="1.6" height="1.5" fill="#6a78e0" opacity="0.89"/>
<rect x="121.5" y="299.6" width="1.2" height="1.2" fill="#a9ecf4" opacity="0.62"/>
<rect x="125.4" y="313.3" width="1.6" height="1.1" fill="#7a3fc9" opacity="0.82"/>
<rect x="123.7" y="301.6" width="2.1" height="1.4" fill="#a9ecf4" opacity="0.49"/>
<rect x="131.8" y="312.1" width="1.5" height="1.7" fill="#b02fc6" opacity="0.47"/>
<rect x="123.6" y="292.4" width="1.6" height="1.4" fill="#c23fd2" opacity="0.79"/>
<rect x="125.9" y="307.9" width="2.2" height="1.1" fill="#a9ecf4" opacity="0.70"/>
<rect x="120.1" y="300.5" width="1.9" height="1.4" fill="#6a78e0" opacity="0.53"/>
<rect x="131.3" y="303.3" width="1.3" height="1.6" fill="#b02fc6" opacity="0.80"/>
<rect x="127.3" y="308.6" width="1.8" height="1.6" fill="#d65fda" opacity="0.87"/>
<rect x="138.2" y="306.3" width="1.1" height="1.5" fill="#b02fc6" opacity="0.83"/>
<rect x="133.1" y="310.2" width="1.5" height="1.0" fill="#b02fc6" opacity="0.72"/>
<rect x="129.9" y="310.6" width="1.1" height="1.5" fill="#b02fc6" opacity="0.84"/>
<rect x="136.6" y="295.6" width="1.4" height="1.3" fill="#a9ecf4" opacity="0.52"/>
<rect x="121.4" y="294.7" width="1.2" height="1.1" fill="#6a78e0" opacity="0.55"/>
<rect x="130.3" y="302.1" width="2.1" height="1.7" fill="#86e4f0" opacity="0.74"/>
<rect x="123.4" y="306.4" width="1.8" height="1.4" fill="#6a78e0" opacity="0.88"/>
<rect x="123.5" y="312.7" width="1.0" height="1.1" fill="#b02fc6" opacity="0.68"/>
<rect x="117.3" y="303.8" width="1.7" height="1.6" fill="#86e4f0" opacity="0.51"/>
<rect x="136.5" y="294.5" width="2.0" height="1.1" fill="#a9ecf4" opacity="0.88"/>
<rect x="125.5" y="309.9" width="1.1" height="1.0" fill="#c23fd2" opacity="0.73"/>
<rect x="116.6" y="301.4" width="1.4" height="1.5" fill="#a9ecf4" opacity="0.46"/>
<rect x="126.1" y="294.5" width="1.9" height="1.5" fill="#6a78e0" opacity="0.82"/>
<rect x="128.7" y="299.6" width="1.1" height="1.4" fill="#b02fc6" opacity="0.59"/>
<rect x="126.4" y="311.2" width="1.1" height="1.6" fill="#a9ecf4" opacity="0.85"/>
<rect x="118.8" y="306.3" width="2.1" height="1.5" fill="#b02fc6" opacity="0.57"/>
<rect x="138.1" y="303.4" width="1.8" height="1.0" fill="#c23fd2" opacity="0.59"/>
<rect x="134.1" y="306.7" width="1.6" height="1.5" fill="#6a78e0" opacity="0.76"/>
<rect x="137.6" y="296.1" width="2.1" height="1.2" fill="#b02fc6" opacity="0.56"/>
<rect x="125.6" y="304.5" width="1.9" height="1.2" fill="#c23fd2" opacity="0.82"/>
<rect x="118.7" y="297.3" width="1.1" height="1.0" fill="#b02fc6" opacity="0.84"/>
<rect x="136.8" y="296.7" width="1.1" height="1.6" fill="#b02fc6" opacity="0.71"/>
<rect x="121.8" y="296.2" width="1.2" height="1.2" fill="#86e4f0" opacity="0.51"/>
<rect x="122.6" y="309.6" width="2.1" height="1.2" fill="#b02fc6" opacity="0.67"/>
<rect x="106.6" y="312.79999999999995" width="8.8" height="1.6" fill="#8d5bd6"/>
<rect x="106.6" y="314.2" width="7.1" height="1.6" fill="#9ce6ef"/>
<polygon points="150.8,311.4 150.8,317.4 142.8,317.4" fill="#8f9ceb"/>
</g>
<rect x="106.6" y="286.2" width="44.2" height="31.2" fill="none" stroke="#1a1a1a" stroke-width="1"/>
<clipPath id="c4"><rect x="48.5" y="317.4" width="43.7" height="32.0"/></clipPath>
<rect x="48.5" y="317.4" width="43.7" height="32.0" fill="#fff"/>
<g clip-path="url(#c4)">
<rect x="61.0" y="336.2" width="1.2" height="1.4" fill="#86e4f0" opacity="0.73"/>
<rect x="70.5" y="330.7" width="1.6" height="1.6" fill="#c23fd2" opacity="0.74"/>
<rect x="60.4" y="328.2" width="1.7" height="1.6" fill="#7a3fc9" opacity="0.48"/>
<rect x="82.4" y="336.5" width="1.9" height="1.2" fill="#b02fc6" opacity="0.72"/>
<rect x="70.2" y="335.4" width="1.5" height="1.4" fill="#a9ecf4" opacity="0.87"/>
<rect x="81.3" y="340.0" width="1.6" height="1.0" fill="#86e4f0" opacity="0.70"/>
<rect x="70.8" y="334.5" width="1.3" height="1.6" fill="#b02fc6" opacity="0.47"/>
<rect x="60.5" y="342.0" width="1.1" height="1.4" fill="#d65fda" opacity="0.80"/>
<rect x="68.1" y="345.7" width="1.2" height="1.5" fill="#c23fd2" opacity="0.45"/>
<rect x="56.8" y="336.5" width="1.5" height="1.1" fill="#86e4f0" opacity="0.78"/>
<rect x="77.9" y="341.5" width="1.0" height="1.6" fill="#86e4f0" opacity="0.89"/>
<rect x="59.9" y="328.1" width="1.3" height="1.3" fill="#b02fc6" opacity="0.83"/>
<rect x="59.8" y="322.7" width="1.0" height="1.4" fill="#a9ecf4" opacity="0.82"/>
<rect x="67.7" y="335.5" width="1.0" height="1.3" fill="#86e4f0" opacity="0.73"/>
<rect x="72.6" y="336.6" width="1.4" height="1.2" fill="#7a3fc9" opacity="0.72"/>
<rect x="68.5" y="328.6" width="1.8" height="1.3" fill="#86e4f0" opacity="0.67"/>
<rect x="81.2" y="339.3" width="1.3" height="1.5" fill="#a9ecf4" opacity="0.57"/>
<rect x="75.2" y="323.7" width="1.6" height="1.7" fill="#a9ecf4" opacity="0.89"/>
<rect x="76.8" y="340.1" width="1.3" height="1.6" fill="#c23fd2" opacity="0.54"/>
<rect x="82.3" y="335.2" width="1.3" height="1.0" fill="#b02fc6" opacity="0.58"/>
<rect x="64.9" y="333.0" width="1.8" height="1.5" fill="#6a78e0" opacity="0.71"/>
<rect x="70.3" y="334.6" width="1.8" height="1.7" fill="#6a78e0" opacity="0.46"/>
<rect x="63.3" y="327.2" width="1.1" height="1.4" fill="#c23fd2" opacity="0.78"/>
<rect x="79.6" y="327.1" width="2.0" height="1.6" fill="#7a3fc9" opacity="0.61"/>
<rect x="63.5" y="321.7" width="2.0" height="1.4" fill="#b02fc6" opacity="0.73"/>
<rect x="62.0" y="340.1" width="1.1" height="1.4" fill="#c23fd2" opacity="0.90"/>
<rect x="78.4" y="326.3" width="1.5" height="1.6" fill="#b02fc6" opacity="0.49"/>
<rect x="69.8" y="328.5" width="1.0" height="1.7" fill="#b02fc6" opacity="0.50"/>
<rect x="71.8" y="323.8" width="1.4" height="1.5" fill="#6a78e0" opacity="0.54"/>
<rect x="74.8" y="342.4" width="1.6" height="1.2" fill="#b02fc6" opacity="0.63"/>
<rect x="69.3" y="343.2" width="2.1" height="1.3" fill="#86e4f0" opacity="0.71"/>
<rect x="67.4" y="337.8" width="1.9" height="1.7" fill="#b02fc6" opacity="0.57"/>
<rect x="75.1" y="342.5" width="1.5" height="1.4" fill="#d65fda" opacity="0.75"/>
<rect x="67.0" y="322.7" width="1.4" height="1.6" fill="#b02fc6" opacity="0.58"/>
<rect x="60.2" y="327.3" width="1.8" height="1.3" fill="#b02fc6" opacity="0.54"/>
<rect x="70.7" y="323.8" width="2.0" height="1.7" fill="#7a3fc9" opacity="0.50"/>
<rect x="77.4" y="339.7" width="1.8" height="1.1" fill="#c23fd2" opacity="0.66"/>
<rect x="71.8" y="337.8" width="1.2" height="1.2" fill="#b02fc6" opacity="0.61"/>
<rect x="66.0" y="325.1" width="2.0" height="1.5" fill="#d65fda" opacity="0.55"/>
<rect x="59.6" y="339.6" width="1.2" height="1.3" fill="#d65fda" opacity="0.73"/>
<rect x="78.8" y="328.6" width="1.6" height="1.5" fill="#6a78e0" opacity="0.54"/>
<rect x="67.3" y="321.7" width="1.3" height="1.6" fill="#c23fd2" opacity="0.89"/>
<rect x="79.3" y="332.8" width="1.4" height="1.1" fill="#b02fc6" opacity="0.65"/>
<rect x="58.1" y="330.7" width="2.1" height="1.2" fill="#b02fc6" opacity="0.84"/>
<rect x="56.8" y="339.1" width="1.6" height="1.7" fill="#7a3fc9" opacity="0.86"/>
<rect x="56.6" y="332.6" width="2.1" height="1.3" fill="#b02fc6" opacity="0.88"/>
<rect x="80.4" y="339.5" width="1.6" height="1.6" fill="#7a3fc9" opacity="0.70"/>
<rect x="64.3" y="345.6" width="1.4" height="1.1" fill="#86e4f0" opacity="0.70"/>
<rect x="69.6" y="334.8" width="1.0" height="1.7" fill="#d65fda" opacity="0.68"/>
<rect x="59.5" y="340.2" width="1.6" height="1.5" fill="#c23fd2" opacity="0.48"/>
<rect x="60.9" y="331.9" width="1.3" height="1.3" fill="#a9ecf4" opacity="0.60"/>
<rect x="81.2" y="326.6" width="1.6" height="1.1" fill="#b02fc6" opacity="0.64"/>
<rect x="81.7" y="335.9" width="1.2" height="1.2" fill="#b02fc6" opacity="0.76"/>
<rect x="63.4" y="345.5" width="1.1" height="1.5" fill="#b02fc6" opacity="0.51"/>
<rect x="86.2" y="346.0" width="6" height="2.6" fill="#a6e9f1"/>
<rect x="55.5" y="347.4" width="4" height="2" fill="#d65fda"/>
</g>
<rect x="48.5" y="317.4" width="43.7" height="32.0" fill="none" stroke="#1a1a1a" stroke-width="1"/>
<clipPath id="c5"><rect x="106.6" y="317.4" width="44.2" height="32.0"/></clipPath>
<rect x="106.6" y="317.4" width="44.2" height="32.0" fill="#fff"/>
<g clip-path="url(#c5)">
<rect x="132.9" y="342.3" width="1.6" height="1.2" fill="#a9ecf4" opacity="0.81"/>
<rect x="130.7" y="326.2" width="1.9" height="1.0" fill="#86e4f0" opacity="0.87"/>
<rect x="123.6" y="335.7" width="2.1" height="1.5" fill="#86e4f0" opacity="0.65"/>
<rect x="138.1" y="333.7" width="1.7" height="1.0" fill="#d65fda" opacity="0.60"/>
<rect x="124.2" y="333.8" width="1.0" height="1.5" fill="#6a78e0" opacity="0.49"/>
<rect x="128.5" y="332.4" width="1.7" height="1.2" fill="#7a3fc9" opacity="0.67"/>
<rect x="129.0" y="336.0" width="1.1" height="1.1" fill="#86e4f0" opacity="0.75"/>
<rect x="131.2" y="324.9" width="1.1" height="1.3" fill="#c23fd2" opacity="0.82"/>
<rect x="131.4" y="344.4" width="1.4" height="1.7" fill="#d65fda" opacity="0.68"/>
<rect x="124.8" y="341.4" width="1.0" height="1.1" fill="#a9ecf4" opacity="0.77"/>
<rect x="136.4" y="333.4" width="1.1" height="1.4" fill="#b02fc6" opacity="0.68"/>
<rect x="122.1" y="331.1" width="1.2" height="1.1" fill="#c23fd2" opacity="0.61"/>
<rect x="134.2" y="330.9" width="1.3" height="1.1" fill="#a9ecf4" opacity="0.87"/>
<rect x="131.3" y="340.6" width="1.8" height="1.5" fill="#7a3fc9" opacity="0.85"/>
<rect x="134.9" y="331.9" width="2.2" height="1.4" fill="#7a3fc9" opacity="0.85"/>
<rect x="120.5" y="334.3" width="2.1" height="1.2" fill="#86e4f0" opacity="0.70"/>
<rect x="121.2" y="336.7" width="1.1" height="1.2" fill="#b02fc6" opacity="0.83"/>
<rect x="126.9" y="332.2" width="1.2" height="1.0" fill="#86e4f0" opacity="0.60"/>
<rect x="137.5" y="327.1" width="1.1" height="1.1" fill="#b02fc6" opacity="0.74"/>
<rect x="134.6" y="329.6" width="2.1" height="1.3" fill="#86e4f0" opacity="0.52"/>
<rect x="120.9" y="341.3" width="1.7" height="1.6" fill="#b02fc6" opacity="0.59"/>
<rect x="122.0" y="332.7" width="1.5" height="1.1" fill="#b02fc6" opacity="0.77"/>
<rect x="127.1" y="340.5" width="2.0" height="1.4" fill="#86e4f0" opacity="0.57"/>
<rect x="118.6" y="340.4" width="1.2" height="1.1" fill="#7a3fc9" opacity="0.49"/>
<rect x="135.9" y="335.2" width="1.1" height="1.1" fill="#7a3fc9" opacity="0.58"/>
<rect x="124.1" y="344.7" width="1.6" height="1.2" fill="#d65fda" opacity="0.52"/>
<rect x="130.7" y="340.4" width="1.7" height="1.4" fill="#b02fc6" opacity="0.79"/>
<rect x="138.5" y="337.9" width="1.6" height="1.0" fill="#d65fda" opacity="0.79"/>
<rect x="132.1" y="342.6" width="2.2" height="1.4" fill="#a9ecf4" opacity="0.79"/>
<rect x="127.9" y="338.4" width="2.0" height="1.6" fill="#a9ecf4" opacity="0.67"/>
<rect x="120.1" y="329.9" width="1.6" height="1.5" fill="#b02fc6" opacity="0.89"/>
<rect x="124.5" y="342.9" width="1.1" height="1.6" fill="#86e4f0" opacity="0.89"/>
<rect x="124.1" y="339.2" width="1.1" height="1.1" fill="#d65fda" opacity="0.48"/>
<rect x="131.9" y="324.3" width="1.6" height="1.7" fill="#b02fc6" opacity="0.76"/>
<rect x="125.5" y="326.3" width="2.1" height="1.0" fill="#d65fda" opacity="0.46"/>
<rect x="126.5" y="331.7" width="1.8" height="1.6" fill="#a9ecf4" opacity="0.78"/>
<rect x="122.5" y="335.5" width="1.4" height="1.2" fill="#d65fda" opacity="0.86"/>
<rect x="126.6" y="331.9" width="1.6" height="1.5" fill="#7a3fc9" opacity="0.85"/>
<rect x="129.8" y="324.6" width="1.3" height="1.6" fill="#a9ecf4" opacity="0.62"/>
<rect x="120.1" y="326.9" width="1.2" height="1.1" fill="#b02fc6" opacity="0.84"/>
<rect x="127.4" y="330.5" width="1.1" height="1.2" fill="#7a3fc9" opacity="0.87"/>
<rect x="127.2" y="326.0" width="2.2" height="1.1" fill="#c23fd2" opacity="0.64"/>
<rect x="124.9" y="327.2" width="1.3" height="1.7" fill="#86e4f0" opacity="0.59"/>
<rect x="127.4" y="344.6" width="2.1" height="1.4" fill="#7a3fc9" opacity="0.56"/>
<rect x="123.9" y="324.7" width="2.1" height="1.3" fill="#7a3fc9" opacity="0.65"/>
<rect x="123.2" y="329.6" width="1.8" height="1.4" fill="#7a3fc9" opacity="0.49"/>
<rect x="133.1" y="332.8" width="2.0" height="1.7" fill="#6a78e0" opacity="0.77"/>
<rect x="136.2" y="334.9" width="1.5" height="1.3" fill="#b02fc6" opacity="0.65"/>
<rect x="139.5" y="333.3" width="1.1" height="1.2" fill="#7a3fc9" opacity="0.65"/>
<rect x="133.5" y="329.3" width="1.7" height="1.6" fill="#7a3fc9" opacity="0.64"/>
<rect x="131.5" y="328.3" width="1.5" height="1.4" fill="#d65fda" opacity="0.55"/>
<rect x="131.2" y="323.8" width="2.1" height="1.0" fill="#b02fc6" opacity="0.71"/>
<rect x="137.8" y="339.2" width="1.2" height="1.3" fill="#86e4f0" opacity="0.69"/>
<rect x="120.1" y="332.1" width="1.2" height="1.1" fill="#6a78e0" opacity="0.58"/>
<rect x="127.1" y="333.1" width="1.8" height="1.1" fill="#c23fd2" opacity="0.49"/>
<rect x="131.5" y="327.8" width="1.1" height="1.0" fill="#6a78e0" opacity="0.67"/>
<rect x="124.2" y="325.3" width="1.0" height="1.2" fill="#7a3fc9" opacity="0.61"/>
<rect x="127.7" y="339.1" width="1.9" height="1.4" fill="#86e4f0" opacity="0.49"/>
<rect x="130.3" y="329.0" width="1.9" height="1.4" fill="#b02fc6" opacity="0.73"/>
<rect x="126.8" y="332.6" width="1.6" height="1.1" fill="#6a78e0" opacity="0.83"/>
<rect x="132.0" y="323.3" width="1.3" height="1.5" fill="#b02fc6" opacity="0.86"/>
<rect x="117.0" y="331.4" width="1.5" height="1.7" fill="#a9ecf4" opacity="0.87"/>
<rect x="128.4" y="332.7" width="1.2" height="1.2" fill="#6a78e0" opacity="0.46"/>
<rect x="120.4" y="341.0" width="2.1" height="1.4" fill="#7a3fc9" opacity="0.85"/>
<rect x="130.9" y="345.1" width="1.9" height="1.5" fill="#a9ecf4" opacity="0.85"/>
<rect x="125.7" y="336.5" width="1.7" height="1.2" fill="#d65fda" opacity="0.75"/>
<rect x="133.6" y="327.1" width="2.1" height="1.7" fill="#b02fc6" opacity="0.79"/>
<rect x="138.1" y="332.8" width="1.3" height="1.4" fill="#c23fd2" opacity="0.62"/>
<rect x="134.4" y="333.5" width="1.3" height="1.3" fill="#7a3fc9" opacity="0.74"/>
<rect x="129.4" y="323.8" width="1.3" height="1.3" fill="#86e4f0" opacity="0.62"/>
<rect x="122.0" y="334.1" width="1.2" height="1.6" fill="#b02fc6" opacity="0.60"/>
<rect x="121.8" y="336.0" width="1.9" height="1.7" fill="#7a3fc9" opacity="0.62"/>
<rect x="127.3" y="334.1" width="1.7" height="1.7" fill="#a9ecf4" opacity="0.54"/>
<rect x="129.2" y="344.0" width="1.8" height="1.0" fill="#b02fc6" opacity="0.86"/>
<rect x="132.5" y="338.8" width="1.5" height="1.4" fill="#6a78e0" opacity="0.72"/>
<rect x="124.2" y="323.7" width="1.4" height="1.2" fill="#c23fd2" opacity="0.80"/>
<rect x="130.9" y="323.0" width="1.7" height="1.2" fill="#86e4f0" opacity="0.83"/>
<rect x="128.0" y="327.9" width="1.2" height="1.6" fill="#7a3fc9" opacity="0.57"/>
<rect x="106.6" y="344.79999999999995" width="8.8" height="1.6" fill="#8d5bd6"/>
<rect x="106.6" y="346.2" width="7.1" height="1.6" fill="#9ce6ef"/>
<polygon points="150.8,343.4 150.8,349.4 142.8,349.4" fill="#8f9ceb"/>
</g>
<rect x="106.6" y="317.4" width="44.2" height="32.0" fill="none" stroke="#1a1a1a" stroke-width="1"/>
<clipPath id="c6"><rect x="48.5" y="361.2" width="43.7" height="31.3"/></clipPath>
<rect x="48.5" y="361.2" width="43.7" height="31.3" fill="#fff"/>
<g clip-path="url(#c6)">
<rect x="68.2" y="377.4" width="1.6" height="1.5" fill="#6a78e0" opacity="0.66"/>
<rect x="76.3" y="370.4" width="1.8" height="1.1" fill="#b02fc6" opacity="0.65"/>
<rect x="76.2" y="386.8" width="1.6" height="1.6" fill="#c23fd2" opacity="0.76"/>
<rect x="72.2" y="370.1" width="1.1" height="1.7" fill="#86e4f0" opacity="0.88"/>
<rect x="78.1" y="383.8" width="2.2" height="1.6" fill="#7a3fc9" opacity="0.70"/>
<rect x="63.7" y="377.1" width="1.6" height="1.3" fill="#b02fc6" opacity="0.46"/>
<rect x="66.9" y="362.7" width="2.1" height="1.6" fill="#6a78e0" opacity="0.62"/>
<rect x="65.4" y="386.8" width="1.4" height="1.4" fill="#6a78e0" opacity="0.81"/>
<rect x="54.6" y="377.3" width="1.3" height="1.3" fill="#b02fc6" opacity="0.62"/>
<rect x="70.5" y="372.6" width="1.1" height="1.2" fill="#7a3fc9" opacity="0.65"/>
<rect x="59.3" y="377.4" width="1.3" height="1.2" fill="#6a78e0" opacity="0.66"/>
<rect x="80.1" y="374.8" width="1.6" height="1.4" fill="#7a3fc9" opacity="0.53"/>
<rect x="71.1" y="365.9" width="1.2" height="1.6" fill="#6a78e0" opacity="0.68"/>
<rect x="69.9" y="380.9" width="1.0" height="1.2" fill="#7a3fc9" opacity="0.80"/>
<rect x="75.3" y="368.3" width="1.6" height="1.2" fill="#b02fc6" opacity="0.76"/>
<rect x="58.9" y="380.6" width="1.3" height="1.6" fill="#b02fc6" opacity="0.58"/>
<rect x="78.8" y="374.2" width="1.9" height="1.4" fill="#86e4f0" opacity="0.46"/>
<rect x="75.1" y="377.5" width="1.5" height="1.2" fill="#a9ecf4" opacity="0.65"/>
<rect x="79.7" y="376.1" width="1.9" height="1.3" fill="#a9ecf4" opacity="0.71"/>
<rect x="78.7" y="371.2" width="2.2" height="1.4" fill="#6a78e0" opacity="0.62"/>
<rect x="70.1" y="378.4" width="2.1" height="1.4" fill="#c23fd2" opacity="0.81"/>
<rect x="66.8" y="379.6" width="1.3" height="1.6" fill="#a9ecf4" opacity="0.76"/>
<rect x="58.0" y="378.0" width="1.7" height="1.1" fill="#d65fda" opacity="0.61"/>
<rect x="79.6" y="382.5" width="1.9" height="1.2" fill="#c23fd2" opacity="0.53"/>
<rect x="68.3" y="375.2" width="1.6" height="1.0" fill="#b02fc6" opacity="0.72"/>
<rect x="58.6" y="380.1" width="2.1" height="1.0" fill="#c23fd2" opacity="0.61"/>
<rect x="67.2" y="388.4" width="1.6" height="1.5" fill="#7a3fc9" opacity="0.52"/>
<rect x="56.0" y="379.9" width="1.6" height="1.5" fill="#86e4f0" opacity="0.47"/>
<rect x="70.9" y="368.0" width="1.8" height="1.7" fill="#b02fc6" opacity="0.70"/>
<rect x="63.9" y="366.3" width="1.4" height="1.3" fill="#b02fc6" opacity="0.61"/>
<rect x="65.0" y="388.2" width="1.6" height="1.3" fill="#a9ecf4" opacity="0.61"/>
<rect x="58.6" y="383.5" width="1.5" height="1.6" fill="#a9ecf4" opacity="0.85"/>
<rect x="63.6" y="388.4" width="1.5" height="1.4" fill="#d65fda" opacity="0.57"/>
<rect x="57.7" y="384.0" width="2.1" height="1.6" fill="#d65fda" opacity="0.53"/>
<rect x="72.4" y="366.2" width="2.0" height="1.5" fill="#b02fc6" opacity="0.78"/>
<rect x="66.9" y="367.0" width="1.9" height="1.6" fill="#a9ecf4" opacity="0.59"/>
<rect x="78.4" y="369.5" width="1.0" height="1.1" fill="#b02fc6" opacity="0.52"/>
<rect x="67.3" y="369.1" width="2.2" height="1.5" fill="#86e4f0" opacity="0.70"/>
<rect x="83.0" y="378.9" width="1.5" height="1.4" fill="#86e4f0" opacity="0.74"/>
<rect x="73.2" y="367.4" width="1.6" height="1.4" fill="#a9ecf4" opacity="0.62"/>
<rect x="61.0" y="381.7" width="1.6" height="1.6" fill="#7a3fc9" opacity="0.76"/>
<rect x="81.2" y="374.2" width="1.7" height="1.7" fill="#d65fda" opacity="0.62"/>
<rect x="82.0" y="382.7" width="1.1" height="1.0" fill="#d65fda" opacity="0.45"/>
<rect x="69.5" y="383.0" width="1.7" height="1.4" fill="#b02fc6" opacity="0.81"/>
<rect x="61.8" y="370.2" width="2.0" height="1.3" fill="#6a78e0" opacity="0.75"/>
<rect x="66.0" y="382.9" width="1.2" height="1.1" fill="#6a78e0" opacity="0.67"/>
<rect x="72.3" y="380.2" width="2.0" height="1.5" fill="#6a78e0" opacity="0.60"/>
<rect x="59.8" y="385.2" width="1.4" height="1.6" fill="#b02fc6" opacity="0.74"/>
<rect x="59.4" y="369.0" width="2.0" height="1.5" fill="#7a3fc9" opacity="0.65"/>
<rect x="67.4" y="388.5" width="1.1" height="1.4" fill="#c23fd2" opacity="0.67"/>
<rect x="60.9" y="386.5" width="1.4" height="1.2" fill="#6a78e0" opacity="0.90"/>
<rect x="63.0" y="388.2" width="1.1" height="1.4" fill="#b02fc6" opacity="0.85"/>
<rect x="79.7" y="373.8" width="1.4" height="1.2" fill="#7a3fc9" opacity="0.75"/>
<rect x="60.6" y="383.1" width="2.0" height="1.4" fill="#c23fd2" opacity="0.84"/>
<rect x="86.2" y="389.1" width="6" height="2.6" fill="#a6e9f1"/>
<rect x="55.5" y="390.5" width="4" height="2" fill="#d65fda"/>
</g>
<rect x="48.5" y="361.2" width="43.7" height="31.3" fill="none" stroke="#1a1a1a" stroke-width="1"/>
<clipPath id="c7"><rect x="106.6" y="361.2" width="44.2" height="31.3"/></clipPath>
<rect x="106.6" y="361.2" width="44.2" height="31.3" fill="#fff"/>
<g clip-path="url(#c7)">
<rect x="132.1" y="376.1" width="1.7" height="1.3" fill="#b02fc6" opacity="0.77"/>
<rect x="127.3" y="366.1" width="1.3" height="1.7" fill="#c23fd2" opacity="0.59"/>
<rect x="118.7" y="370.7" width="1.8" height="1.0" fill="#d65fda" opacity="0.85"/>
<rect x="122.6" y="373.9" width="1.2" height="1.1" fill="#86e4f0" opacity="0.69"/>
<rect x="126.2" y="365.7" width="1.8" height="1.4" fill="#b02fc6" opacity="0.57"/>
<rect x="134.3" y="375.6" width="1.3" height="1.2" fill="#7a3fc9" opacity="0.76"/>
<rect x="121.7" y="380.2" width="1.5" height="1.2" fill="#b02fc6" opacity="0.58"/>
<rect x="133.5" y="372.3" width="1.4" height="1.3" fill="#7a3fc9" opacity="0.71"/>
<rect x="125.1" y="385.8" width="1.9" height="1.6" fill="#d65fda" opacity="0.64"/>
<rect x="134.5" y="381.5" width="1.5" height="1.3" fill="#c23fd2" opacity="0.87"/>
<rect x="136.2" y="374.8" width="1.0" height="1.3" fill="#d65fda" opacity="0.54"/>
<rect x="135.1" y="378.7" width="1.4" height="1.3" fill="#7a3fc9" opacity="0.54"/>
<rect x="136.2" y="379.4" width="1.8" height="1.1" fill="#86e4f0" opacity="0.54"/>
<rect x="131.4" y="380.5" width="1.1" height="1.1" fill="#b02fc6" opacity="0.77"/>
<rect x="132.0" y="382.1" width="1.6" height="1.0" fill="#b02fc6" opacity="0.77"/>
<rect x="131.4" y="376.3" width="2.1" height="1.0" fill="#a9ecf4" opacity="0.68"/>
<rect x="123.3" y="372.1" width="1.8" height="1.4" fill="#7a3fc9" opacity="0.76"/>
<rect x="129.4" y="380.3" width="1.4" height="1.1" fill="#86e4f0" opacity="0.55"/>
<rect x="127.8" y="388.1" width="1.0" height="1.5" fill="#7a3fc9" opacity="0.71"/>
<rect x="122.3" y="372.1" width="1.9" height="1.6" fill="#c23fd2" opacity="0.83"/>
<rect x="135.1" y="378.9" width="1.2" height="1.5" fill="#b02fc6" opacity="0.74"/>
<rect x="137.2" y="380.3" width="1.6" height="1.2" fill="#d65fda" opacity="0.55"/>
<rect x="127.8" y="380.1" width="1.2" height="1.7" fill="#7a3fc9" opacity="0.59"/>
<rect x="132.8" y="378.1" width="1.1" height="1.3" fill="#a9ecf4" opacity="0.46"/>
<rect x="127.8" y="376.6" width="2.0" height="1.2" fill="#b02fc6" opacity="0.69"/>
<rect x="132.2" y="382.5" width="1.8" height="1.4" fill="#b02fc6" opacity="0.50"/>
<rect x="134.5" y="367.7" width="1.3" height="1.6" fill="#6a78e0" opacity="0.57"/>
<rect x="127.2" y="385.8" width="2.0" height="1.4" fill="#6a78e0" opacity="0.76"/>
<rect x="132.7" y="366.8" width="1.6" height="1.2" fill="#86e4f0" opacity="0.84"/>
<rect x="136.2" y="381.9" width="1.8" height="1.1" fill="#86e4f0" opacity="0.86"/>
<rect x="126.6" y="379.6" width="1.2" height="1.3" fill="#7a3fc9" opacity="0.88"/>
<rect x="134.8" y="377.3" width="1.1" height="1.4" fill="#b02fc6" opacity="0.47"/>
<rect x="125.6" y="375.1" width="2.1" height="1.2" fill="#c23fd2" opacity="0.59"/>
<rect x="123.7" y="387.6" width="1.4" height="1.5" fill="#6a78e0" opacity="0.81"/>
<rect x="133.2" y="379.3" width="1.8" height="1.0" fill="#6a78e0" opacity="0.56"/>
<rect x="132.5" y="381.8" width="2.1" height="1.1" fill="#b02fc6" opacity="0.86"/>
<rect x="133.0" y="367.3" width="1.6" height="1.3" fill="#7a3fc9" opacity="0.61"/>
<rect x="130.2" y="371.1" width="2.1" height="1.7" fill="#86e4f0" opacity="0.62"/>
<rect x="139.2" y="380.0" width="1.1" height="1.6" fill="#86e4f0" opacity="0.79"/>
<rect x="120.3" y="374.5" width="2.2" height="1.6" fill="#a9ecf4" opacity="0.50"/>
<rect x="117.7" y="378.6" width="1.1" height="1.2" fill="#d65fda" opacity="0.62"/>
<rect x="135.6" y="372.7" width="1.5" height="1.4" fill="#b02fc6" opacity="0.63"/>
<rect x="117.5" y="380.1" width="1.4" height="1.2" fill="#b02fc6" opacity="0.45"/>
<rect x="131.8" y="379.7" width="1.9" height="1.1" fill="#b02fc6" opacity="0.70"/>
<rect x="129.7" y="371.3" width="1.0" height="1.6" fill="#7a3fc9" opacity="0.71"/>
<rect x="125.8" y="382.7" width="2.1" height="1.2" fill="#86e4f0" opacity="0.63"/>
<rect x="123.2" y="375.6" width="1.8" height="1.3" fill="#d65fda" opacity="0.81"/>
<rect x="118.5" y="382.0" width="1.9" height="1.2" fill="#86e4f0" opacity="0.69"/>
<rect x="124.1" y="369.3" width="1.7" height="1.2" fill="#86e4f0" opacity="0.66"/>
<rect x="131.9" y="366.5" width="1.7" height="1.2" fill="#c23fd2" opacity="0.64"/>
<rect x="134.8" y="384.5" width="1.7" height="1.4" fill="#b02fc6" opacity="0.74"/>
<rect x="136.1" y="384.1" width="1.5" height="1.1" fill="#86e4f0" opacity="0.68"/>
<rect x="127.9" y="375.8" width="1.5" height="1.6" fill="#7a3fc9" opacity="0.52"/>
<rect x="135.6" y="374.3" width="1.8" height="1.2" fill="#7a3fc9" opacity="0.50"/>
<rect x="132.6" y="385.9" width="1.8" height="1.4" fill="#a9ecf4" opacity="0.60"/>
<rect x="129.2" y="370.7" width="1.9" height="1.4" fill="#7a3fc9" opacity="0.73"/>
<rect x="127.1" y="378.2" width="1.8" height="1.2" fill="#d65fda" opacity="0.64"/>
<rect x="127.4" y="371.6" width="1.3" height="1.4" fill="#d65fda" opacity="0.73"/>
<rect x="126.2" y="387.1" width="2.1" height="1.4" fill="#6a78e0" opacity="0.86"/>
<rect x="124.8" y="369.2" width="1.5" height="1.6" fill="#7a3fc9" opacity="0.46"/>
<rect x="123.7" y="370.7" width="1.7" height="1.6" fill="#6a78e0" opacity="0.62"/>
<rect x="125.4" y="386.0" width="2.1" height="1.7" fill="#7a3fc9" opacity="0.50"/>
<rect x="122.6" y="378.5" width="2.0" height="1.3" fill="#d65fda" opacity="0.52"/>
<rect x="131.9" y="377.7" width="1.5" height="1.5" fill="#a9ecf4" opacity="0.67"/>
<rect x="126.0" y="386.3" width="1.9" height="1.3" fill="#6a78e0" opacity="0.49"/>
<rect x="122.5" y="378.5" width="1.5" height="1.1" fill="#86e4f0" opacity="0.81"/>
<rect x="129.3" y="367.4" width="1.9" height="1.0" fill="#6a78e0" opacity="0.85"/>
<rect x="131.2" y="369.5" width="1.2" height="1.1" fill="#b02fc6" opacity="0.78"/>
<rect x="130.0" y="377.9" width="1.1" height="1.2" fill="#b02fc6" opacity="0.50"/>
<rect x="129.0" y="384.3" width="1.2" height="1.2" fill="#d65fda" opacity="0.86"/>
<rect x="129.9" y="368.1" width="1.1" height="1.6" fill="#d65fda" opacity="0.51"/>
<rect x="134.5" y="384.9" width="2.1" height="1.5" fill="#86e4f0" opacity="0.61"/>
<rect x="137.0" y="376.9" width="1.8" height="1.4" fill="#a9ecf4" opacity="0.55"/>
<rect x="125.2" y="373.9" width="1.3" height="1.7" fill="#6a78e0" opacity="0.87"/>
<rect x="128.1" y="379.9" width="2.0" height="1.2" fill="#b02fc6" opacity="0.50"/>
<rect x="137.1" y="383.3" width="1.8" height="1.6" fill="#b02fc6" opacity="0.67"/>
<rect x="119.5" y="379.1" width="1.9" height="1.5" fill="#7a3fc9" opacity="0.53"/>
<rect x="127.6" y="383.9" width="1.1" height="1.4" fill="#c23fd2" opacity="0.56"/>
<rect x="106.6" y="387.9" width="8.8" height="1.6" fill="#8d5bd6"/>
<rect x="106.6" y="389.3" width="7.1" height="1.6" fill="#9ce6ef"/>
<polygon points="150.8,386.5 150.8,392.5 142.8,392.5" fill="#8f9ceb"/>
</g>
<rect x="106.6" y="361.2" width="44.2" height="31.3" fill="none" stroke="#1a1a1a" stroke-width="1"/>
<clipPath id="c8"><rect x="48.5" y="392.5" width="43.7" height="31.0"/></clipPath>
<rect x="48.5" y="392.5" width="43.7" height="31.0" fill="#fff"/>
<g clip-path="url(#c8)">
<rect x="68.8" y="418.5" width="1.8" height="1.5" fill="#7a3fc9" opacity="0.84"/>
<rect x="63.1" y="401.5" width="1.6" height="1.1" fill="#c23fd2" opacity="0.58"/>
<rect x="66.8" y="409.5" width="1.1" height="1.6" fill="#7a3fc9" opacity="0.85"/>
<rect x="68.5" y="417.7" width="2.1" height="1.6" fill="#d65fda" opacity="0.57"/>
<rect x="75.2" y="401.2" width="1.8" height="1.6" fill="#d65fda" opacity="0.74"/>
<rect x="62.4" y="399.1" width="1.8" height="1.4" fill="#a9ecf4" opacity="0.79"/>
<rect x="71.5" y="410.3" width="1.3" height="1.3" fill="#6a78e0" opacity="0.72"/>
<rect x="65.6" y="411.0" width="1.7" height="1.6" fill="#86e4f0" opacity="0.77"/>
<rect x="76.5" y="415.1" width="1.9" height="1.7" fill="#b02fc6" opacity="0.47"/>
<rect x="77.8" y="417.7" width="1.8" height="1.1" fill="#b02fc6" opacity="0.64"/>
<rect x="79.3" y="398.9" width="1.6" height="1.5" fill="#6a78e0" opacity="0.86"/>
<rect x="66.7" y="399.4" width="1.3" height="1.4" fill="#b02fc6" opacity="0.71"/>
<rect x="60.7" y="403.1" width="1.2" height="1.6" fill="#a9ecf4" opacity="0.70"/>
<rect x="72.9" y="406.0" width="2.2" height="1.6" fill="#b02fc6" opacity="0.74"/>
<rect x="56.4" y="406.4" width="1.7" height="1.5" fill="#a9ecf4" opacity="0.87"/>
<rect x="56.7" y="406.8" width="1.0" height="1.2" fill="#b02fc6" opacity="0.67"/>
<rect x="79.8" y="406.7" width="2.0" height="1.3" fill="#a9ecf4" opacity="0.77"/>
<rect x="72.2" y="411.7" width="1.3" height="1.4" fill="#86e4f0" opacity="0.61"/>
<rect x="70.1" y="419.2" width="1.4" height="1.3" fill="#b02fc6" opacity="0.48"/>
<rect x="82.5" y="411.8" width="1.2" height="1.3" fill="#a9ecf4" opacity="0.70"/>
<rect x="65.8" y="414.5" width="1.4" height="1.1" fill="#c23fd2" opacity="0.59"/>
<rect x="58.7" y="401.0" width="1.2" height="1.3" fill="#6a78e0" opacity="0.65"/>
<rect x="78.4" y="400.6" width="2.2" height="1.0" fill="#7a3fc9" opacity="0.52"/>
<rect x="78.7" y="401.1" width="2.1" height="1.6" fill="#b02fc6" opacity="0.76"/>
<rect x="80.7" y="414.6" width="1.1" height="1.2" fill="#86e4f0" opacity="0.82"/>
<rect x="70.6" y="419.2" width="1.2" height="1.3" fill="#b02fc6" opacity="0.47"/>
<rect x="55.8" y="404.8" width="1.6" height="1.2" fill="#6a78e0" opacity="0.88"/>
<rect x="69.3" y="410.0" width="1.2" height="1.0" fill="#b02fc6" opacity="0.69"/>
<rect x="67.7" y="420.2" width="1.7" height="1.6" fill="#7a3fc9" opacity="0.77"/>
<rect x="66.5" y="419.7" width="1.1" height="1.3" fill="#c23fd2" opacity="0.62"/>
<rect x="59.6" y="415.8" width="1.6" height="1.2" fill="#b02fc6" opacity="0.55"/>
<rect x="82.6" y="407.7" width="1.5" height="1.7" fill="#6a78e0" opacity="0.79"/>
<rect x="57.6" y="409.5" width="1.2" height="1.3" fill="#b02fc6" opacity="0.66"/>
<rect x="74.7" y="420.0" width="1.6" height="1.4" fill="#b02fc6" opacity="0.51"/>
<rect x="82.5" y="408.7" width="1.3" height="1.5" fill="#b02fc6" opacity="0.74"/>
<rect x="57.8" y="413.3" width="1.9" height="1.5" fill="#b02fc6" opacity="0.58"/>
<rect x="61.7" y="402.0" width="1.3" height="1.0" fill="#a9ecf4" opacity="0.49"/>
<rect x="65.1" y="416.7" width="2.1" height="1.6" fill="#b02fc6" opacity="0.74"/>
<rect x="63.8" y="404.0" width="1.1" height="1.6" fill="#b02fc6" opacity="0.87"/>
<rect x="74.2" y="398.9" width="1.9" height="1.5" fill="#6a78e0" opacity="0.72"/>
<rect x="68.9" y="420.9" width="1.7" height="1.1" fill="#b02fc6" opacity="0.78"/>
<rect x="83.6" y="410.4" width="1.5" height="1.6" fill="#6a78e0" opacity="0.67"/>
<rect x="61.2" y="404.7" width="1.4" height="1.5" fill="#a9ecf4" opacity="0.86"/>
<rect x="63.7" y="396.8" width="1.9" height="1.7" fill="#c23fd2" opacity="0.59"/>
<rect x="82.7" y="402.6" width="1.7" height="1.5" fill="#b02fc6" opacity="0.49"/>
<rect x="70.1" y="411.6" width="2.0" height="1.4" fill="#a9ecf4" opacity="0.64"/>
<rect x="56.1" y="403.4" width="1.8" height="1.7" fill="#c23fd2" opacity="0.70"/>
<rect x="61.1" y="400.5" width="1.2" height="1.1" fill="#b02fc6" opacity="0.48"/>
<rect x="57.2" y="412.8" width="1.8" height="1.6" fill="#d65fda" opacity="0.83"/>
<rect x="73.1" y="412.7" width="1.1" height="1.5" fill="#7a3fc9" opacity="0.59"/>
<rect x="65.7" y="418.8" width="2.1" height="1.2" fill="#d65fda" opacity="0.77"/>
<rect x="82.2" y="416.2" width="1.1" height="1.1" fill="#7a3fc9" opacity="0.79"/>
<rect x="72.8" y="411.9" width="1.1" height="1.6" fill="#c23fd2" opacity="0.70"/>
<rect x="77.7" y="416.7" width="1.4" height="1.3" fill="#b02fc6" opacity="0.45"/>
<rect x="86.2" y="420.1" width="6" height="2.6" fill="#a6e9f1"/>
<rect x="55.5" y="421.5" width="4" height="2" fill="#d65fda"/>
</g>
<rect x="48.5" y="392.5" width="43.7" height="31.0" fill="none" stroke="#1a1a1a" stroke-width="1"/>
<clipPath id="c9"><rect x="106.6" y="392.5" width="44.2" height="31.0"/></clipPath>
<rect x="106.6" y="392.5" width="44.2" height="31.0" fill="#fff"/>
<g clip-path="url(#c9)">
<rect x="138.4" y="403.3" width="1.0" height="1.2" fill="#c23fd2" opacity="0.62"/>
<rect x="121.7" y="416.3" width="1.5" height="1.2" fill="#a9ecf4" opacity="0.65"/>
<rect x="131.3" y="408.9" width="1.5" height="1.4" fill="#b02fc6" opacity="0.78"/>
<rect x="126.1" y="410.5" width="1.7" height="1.5" fill="#b02fc6" opacity="0.73"/>
<rect x="134.6" y="407.2" width="2.2" height="1.2" fill="#6a78e0" opacity="0.89"/>
<rect x="118.3" y="403.7" width="1.9" height="1.4" fill="#7a3fc9" opacity="0.65"/>
<rect x="124.7" y="404.4" width="1.6" height="1.5" fill="#7a3fc9" opacity="0.68"/>
<rect x="125.3" y="406.8" width="1.0" height="1.2" fill="#d65fda" opacity="0.71"/>
<rect x="130.6" y="402.3" width="2.1" height="1.4" fill="#6a78e0" opacity="0.85"/>
<rect x="122.9" y="409.8" width="1.1" height="1.5" fill="#7a3fc9" opacity="0.77"/>
<rect x="130.4" y="403.3" width="2.1" height="1.4" fill="#7a3fc9" opacity="0.88"/>
<rect x="133.6" y="418.5" width="1.8" height="1.3" fill="#b02fc6" opacity="0.52"/>
<rect x="127.9" y="409.6" width="2.0" height="1.7" fill="#86e4f0" opacity="0.69"/>
<rect x="138.3" y="407.6" width="1.0" height="1.6" fill="#6a78e0" opacity="0.67"/>
<rect x="133.6" y="409.8" width="1.9" height="1.3" fill="#86e4f0" opacity="0.58"/>
<rect x="135.1" y="413.2" width="1.8" height="1.4" fill="#7a3fc9" opacity="0.56"/>
<rect x="131.8" y="411.3" width="1.5" height="1.2" fill="#b02fc6" opacity="0.85"/>
<rect x="132.5" y="398.0" width="1.1" height="1.7" fill="#d65fda" opacity="0.85"/>
<rect x="127.7" y="399.7" width="1.5" height="1.5" fill="#d65fda" opacity="0.70"/>
<rect x="118.0" y="405.2" width="1.0" height="1.1" fill="#c23fd2" opacity="0.88"/>
<rect x="126.6" y="400.9" width="2.1" height="1.1" fill="#7a3fc9" opacity="0.70"/>
<rect x="122.2" y="406.8" width="2.0" height="1.7" fill="#b02fc6" opacity="0.57"/>
<rect x="126.8" y="410.0" width="1.9" height="1.3" fill="#7a3fc9" opacity="0.81"/>
<rect x="136.9" y="410.2" width="2.1" height="1.3" fill="#d65fda" opacity="0.57"/>
<rect x="118.3" y="401.8" width="1.6" height="1.2" fill="#7a3fc9" opacity="0.85"/>
<rect x="137.4" y="414.3" width="1.5" height="1.0" fill="#b02fc6" opacity="0.66"/>
<rect x="119.8" y="413.6" width="1.4" height="1.2" fill="#d65fda" opacity="0.88"/>
<rect x="123.7" y="414.5" width="2.1" height="1.5" fill="#d65fda" opacity="0.79"/>
<rect x="134.4" y="402.5" width="1.5" height="1.6" fill="#c23fd2" opacity="0.89"/>
<rect x="131.9" y="414.2" width="2.2" height="1.2" fill="#b02fc6" opacity="0.80"/>
<rect x="130.3" y="408.3" width="1.3" height="1.7" fill="#c23fd2" opacity="0.74"/>
<rect x="138.2" y="411.2" width="1.2" height="1.4" fill="#a9ecf4" opacity="0.73"/>
<rect x="128.8" y="403.6" width="1.7" height="1.3" fill="#d65fda" opacity="0.89"/>
<rect x="121.2" y="401.6" width="1.0" height="1.1" fill="#7a3fc9" opacity="0.79"/>
<rect x="132.0" y="408.1" width="2.1" height="1.2" fill="#7a3fc9" opacity="0.85"/>
<rect x="124.8" y="418.4" width="2.0" height="1.4" fill="#b02fc6" opacity="0.72"/>
<rect x="126.1" y="412.3" width="1.2" height="1.1" fill="#c23fd2" opacity="0.89"/>
<rect x="138.1" y="407.8" width="1.6" height="1.6" fill="#86e4f0" opacity="0.65"/>
<rect x="121.8" y="415.6" width="1.5" height="1.5" fill="#a9ecf4" opacity="0.88"/>
<rect x="123.2" y="403.2" width="2.0" height="1.0" fill="#a9ecf4" opacity="0.63"/>
<rect x="126.4" y="398.4" width="1.3" height="1.3" fill="#7a3fc9" opacity="0.48"/>
<rect x="124.8" y="415.5" width="1.7" height="1.3" fill="#7a3fc9" opacity="0.56"/>
<rect x="123.9" y="417.3" width="2.0" height="1.3" fill="#b02fc6" opacity="0.62"/>
<rect x="126.2" y="408.5" width="2.0" height="1.1" fill="#d65fda" opacity="0.65"/>
<rect x="131.7" y="418.2" width="1.5" height="1.0" fill="#c23fd2" opacity="0.74"/>
<rect x="127.7" y="418.3" width="1.5" height="1.7" fill="#d65fda" opacity="0.78"/>
<rect x="125.3" y="399.3" width="1.9" height="1.1" fill="#a9ecf4" opacity="0.89"/>
<rect x="128.0" y="398.0" width="1.7" height="1.1" fill="#b02fc6" opacity="0.48"/>
<rect x="123.7" y="409.3" width="1.1" height="1.0" fill="#a9ecf4" opacity="0.68"/>
<rect x="130.2" y="417.6" width="1.9" height="1.2" fill="#6a78e0" opacity="0.77"/>
<rect x="117.9" y="413.1" width="1.4" height="1.5" fill="#a9ecf4" opacity="0.55"/>
<rect x="123.1" y="399.2" width="1.1" height="1.5" fill="#7a3fc9" opacity="0.51"/>
<rect x="136.4" y="404.2" width="2.2" height="1.1" fill="#a9ecf4" opacity="0.82"/>
<rect x="130.7" y="409.8" width="1.9" height="1.7" fill="#b02fc6" opacity="0.73"/>
<rect x="121.5" y="407.9" width="2.2" height="1.5" fill="#d65fda" opacity="0.84"/>
<rect x="131.1" y="418.1" width="1.8" height="1.1" fill="#c23fd2" opacity="0.83"/>
<rect x="118.0" y="409.0" width="1.3" height="1.6" fill="#7a3fc9" opacity="0.72"/>
<rect x="125.8" y="410.0" width="2.0" height="1.4" fill="#d65fda" opacity="0.51"/>
<rect x="130.2" y="401.7" width="1.0" height="1.3" fill="#d65fda" opacity="0.66"/>
<rect x="125.5" y="418.2" width="2.0" height="1.1" fill="#b02fc6" opacity="0.81"/>
<rect x="129.0" y="404.1" width="2.0" height="1.5" fill="#7a3fc9" opacity="0.50"/>
<rect x="133.1" y="399.8" width="2.0" height="1.4" fill="#86e4f0" opacity="0.69"/>
<rect x="118.3" y="402.2" width="2.0" height="1.2" fill="#86e4f0" opacity="0.72"/>
<rect x="132.5" y="399.5" width="1.1" height="1.3" fill="#7a3fc9" opacity="0.48"/>
<rect x="124.6" y="402.1" width="1.9" height="1.1" fill="#6a78e0" opacity="0.56"/>
<rect x="120.5" y="416.5" width="1.3" height="1.4" fill="#b02fc6" opacity="0.81"/>
<rect x="123.2" y="415.9" width="1.9" height="1.5" fill="#c23fd2" opacity="0.52"/>
<rect x="119.3" y="405.0" width="1.5" height="1.0" fill="#b02fc6" opacity="0.87"/>
<rect x="126.8" y="418.4" width="1.8" height="1.5" fill="#b02fc6" opacity="0.59"/>
<rect x="131.5" y="397.7" width="1.5" height="1.5" fill="#c23fd2" opacity="0.62"/>
<rect x="127.7" y="403.4" width="1.0" height="1.6" fill="#c23fd2" opacity="0.80"/>
<rect x="126.3" y="404.8" width="2.1" height="1.4" fill="#6a78e0" opacity="0.87"/>
<rect x="131.9" y="413.3" width="1.6" height="1.7" fill="#a9ecf4" opacity="0.74"/>
<rect x="121.1" y="402.1" width="1.8" height="1.1" fill="#d65fda" opacity="0.57"/>
<rect x="126.1" y="398.4" width="2.1" height="1.6" fill="#b02fc6" opacity="0.70"/>
<rect x="133.6" y="402.8" width="1.9" height="1.5" fill="#b02fc6" opacity="0.83"/>
<rect x="127.0" y="412.4" width="2.1" height="1.3" fill="#86e4f0" opacity="0.85"/>
<rect x="132.5" y="400.3" width="1.3" height="1.6" fill="#a9ecf4" opacity="0.89"/>
<rect x="106.6" y="418.9" width="8.8" height="1.6" fill="#8d5bd6"/>
<rect x="106.6" y="420.3" width="7.1" height="1.6" fill="#9ce6ef"/>
<polygon points="150.8,417.5 150.8,423.5 142.8,423.5" fill="#8f9ceb"/>
</g>
<rect x="106.6" y="392.5" width="44.2" height="31.0" fill="none" stroke="#1a1a1a" stroke-width="1"/>
<text x="70.4" y="357.4" font-size="7" text-anchor="middle" font-weight="bold" fill="#222" >···</text>
<text x="128.8" y="357.4" font-size="7" text-anchor="middle" font-weight="bold" fill="#222" >···</text>
<clipPath id="c10"><rect x="48.6" y="430.9" width="101.5" height="50.1"/></clipPath>
<g clip-path="url(#c10)"><g transform="translate(48.6,430.9)">
<rect x="-3" y="-3" width="107.5" height="56.1" fill="#3d4045"/>
<rect x="-3" y="-3" width="107.5" height="20.6" fill="#f2f5f2"/>
<rect x="-3" y="14" width="80" height="3.6" fill="#d5e2d6"/>
<rect x="58" y="12.5" width="12" height="3" fill="#9fd0ae"/>
<rect x="80" y="3" width="12" height="12" fill="#e3ece8"/>
<rect x="-3" y="-3" width="107.5" height="4.8" fill="#4f5763"/>
<rect x="76.3" y="4" width="3.2" height="11" fill="#7c9a86"/>
<rect x="80.5" y="6" width="1.2" height="12" fill="#a9bdb4"/>
<rect x="-3" y="17.4" width="107.5" height="4.5" fill="#4a4d52"/>
<path d="M-3,18 L30,18" stroke="#c9cdd0" stroke-width="0.8"/>
<path d="M19,19.6 L52,19.8 L78,27.8 L76.5,30 L62,25.6 L50,22.2 L23,21 Z" fill="#f4f5f5"/>
<path d="M52,25 L70,30.8" stroke="#f4f5f5" stroke-width="1.3"/>
<rect x="46" y="17.6" width="34" height="2.2" fill="#f4f5f5"/>
<path d="M54,20.4 L80,20.6 L80,24.6 L67,23.6 Z" fill="#4a4d52"/>
<g transform="translate(-11,0)">
<rect x="30.5" y="16.2" width="3.6" height="3.6" rx="1" fill="#555a5c"/>
<path d="M-14,36 C-4,30 6,24 17,21 L30,20.4 L50,21 C58,23 66,27.5 74,32 L80,38 L80,53 L-14,53 Z" fill="#463e28"/>
<path d="M-14,33 L60,29.6 L76,33.5 L76,42 L-14,44 Z" fill="#52482e"/>
<path d="M-12,36 C-2,29 6,23.2 17.5,20.2 L30,19.4 L50,20" fill="none" stroke="#f4f5f5" stroke-width="1.4"/>
<path d="M8,28.6 C13,24.2 18,21.8 26,21.3 L48,21.6 C53,22.8 58,25.4 62,28.8 Z" fill="#25272c"/>
<path d="M11,29.3 L60,29.2" stroke="#8d9092" stroke-width="0.7" opacity="0.8"/>
<rect x="7.5" y="27.3" width="5" height="3.6" rx="1.5" fill="#25272c"/>
<rect x="8.3" y="27" width="3.4" height="1.1" fill="#f4f5f5"/>
<rect x="-14" y="44.5" width="96" height="9" fill="#2a2823" opacity="0.8"/>
<rect x="7" y="36.4" width="13" height="2.8" rx="1.2" fill="#a9cdbf" opacity="0.9"/>
<circle cx="55.6" cy="47.4" r="7.6" fill="#1c1e20"/>
<circle cx="55.6" cy="47.6" r="4.2" fill="#5f6668"/>
<circle cx="55.6" cy="47.6" r="1.4" fill="#2a2c2f"/>
</g>
<path d="M79,53 L83,40 L88.5,22 L92.5,7 L96,5.6 L96,11 L104,9 L104,53 Z" fill="#f4f5f5"/>
<path d="M85,40 L90.4,20 L93.6,9" fill="none" stroke="#b9c3c6" stroke-width="0.9" opacity="0.8"/>
<path d="M92.4,17.4 L104,15 L104,31.4 L89.2,31.6 Z" fill="#2a2d38"/>
<path d="M75.5,53 L78,47.5 C84,42.5 94,40.2 104,40 L104,53 Z" fill="#292d39"/>
<path d="M65.5,35 C67,31.6 72,30.6 78.6,31.4 C79,35 77.5,39 74.5,40.2 C70,40.6 66,39 65.5,35 Z" fill="#1b1d22"/>
<path d="M64.5,31.2 L78,30.6" stroke="#f4f5f5" stroke-width="0.9"/>
</g></g>
<rect x="50.2" y="432.79999999999995" width="72.8" height="11.2" fill="#fff"/>
<text x="86.6" y="440.79999999999995" font-size="8.6" text-anchor="middle" font-weight="normal" fill="#222" >COP image 1</text>
<rect x="82.7" y="466.4" width="22" height="13.2" fill="none" stroke="#f2f2f2" stroke-width="0.9"/>
<polygon points="158.8,350.2 174,350.2 174,342 182.8,357.2 174,372.4 174,364.4 158.8,364.4" fill="#2f7296"/>
<clipPath id="c11"><rect x="186.1" y="218.1" width="100.9" height="50.1"/></clipPath>
<g clip-path="url(#c11)"><g transform="translate(186.1,218.1)">
<rect x="-3" y="-3" width="106.9" height="56.1" fill="#3d4045"/>
<rect x="-3" y="-3" width="106.9" height="20.6" fill="#f5c9ef"/>
<rect x="-3" y="1" width="48" height="16.6" fill="#8c9a8e"/>
<rect x="22" y="2" width="9" height="15" fill="#5d6a60"/>
<rect x="33" y="4" width="6" height="12" fill="#a9b9a6"/>
<rect x="40" y="4" width="18" height="5" fill="#b7c7c4"/>
<rect x="40" y="9" width="30" height="3" fill="#f5c9ef"/>
<rect x="44" y="12" width="22" height="4.5" fill="#a9c4ae"/>
<rect x="-3" y="-3" width="106.9" height="4.8" fill="#4f5763"/>
<rect x="76.3" y="4" width="3.2" height="11" fill="#7c9a86"/>
<rect x="80.5" y="6" width="1.2" height="12" fill="#a9bdb4"/>
<rect x="-3" y="17.4" width="106.9" height="4.5" fill="#4a4d52"/>
<path d="M-3,18 L30,18" stroke="#c9cdd0" stroke-width="0.8"/>
<path d="M27,19.6 L52,19.8 L78,27.8 L76.5,30 L62,25.6 L50,22.2 L31,21 Z" fill="#f5ccf0"/>
<path d="M52,25 L70,30.8" stroke="#f5ccf0" stroke-width="2.0"/>
<rect x="23" y="17.2" width="59" height="2.9" fill="#f5ccf0"/>
<path d="M54,20.4 L80,20.6 L80,24.6 L67,23.6 Z" fill="#4a4d52"/>
<g transform="translate(-3,0)">
<rect x="30.5" y="16.2" width="3.6" height="3.6" rx="1" fill="#d9a9c9"/>
<path d="M-14,36 C-4,30 6,24 17,21 L30,20.4 L50,21 C58,23 66,27.5 74,32 L80,38 L80,53 L-14,53 Z" fill="#5c4533"/>
<path d="M-14,33 L60,29.6 L76,33.5 L76,42 L-14,44 Z" fill="#70543e"/>
<path d="M-12,36 C-2,29 6,23.2 17.5,20.2 L30,19.4 L50,20" fill="none" stroke="#f5ccf0" stroke-width="2.3"/>
<path d="M8,28.6 C13,24.2 18,21.8 26,21.3 L48,21.6 C53,22.8 58,25.4 62,28.8 Z" fill="#25272c"/>
<path d="M11,29.3 L60,29.2" stroke="#8d9092" stroke-width="0.7" opacity="0.8"/>
<rect x="7.5" y="27.3" width="5" height="3.6" rx="1.5" fill="#25272c"/>
<rect x="8.3" y="27" width="3.4" height="1.1" fill="#f5ccf0"/>
<rect x="-14" y="44.5" width="96" height="9" fill="#2a2823" opacity="0.8"/>
<rect x="7" y="36.4" width="13" height="2.8" rx="1.2" fill="#a9cdbf" opacity="0.9"/>
<circle cx="55.6" cy="47.4" r="7.6" fill="#1c1e20"/>
<circle cx="55.6" cy="47.6" r="4.2" fill="#5f6668"/>
<circle cx="55.6" cy="47.6" r="1.4" fill="#2a2c2f"/>
</g>
<path d="M79,53 L83,40 L88.5,22 L92.5,7 L96,5.6 L96,11 L104,9 L104,53 Z" fill="#f5ccf0"/>
<path d="M85,40 L90.4,20 L93.6,9" fill="none" stroke="#b9c3c6" stroke-width="0.9" opacity="0.8"/>
<path d="M92.4,17.4 L104,15 L104,31.4 L89.2,31.6 Z" fill="#2a2d38"/>
<path d="M75.5,53 L78,47.5 C84,42.5 94,40.2 104,40 L104,53 Z" fill="#292d39"/>
<path d="M65.5,35 C67,31.6 72,30.6 78.6,31.4 C79,35 77.5,39 74.5,40.2 C70,40.6 66,39 65.5,35 Z" fill="#1b1d22"/>
<path d="M64.5,31.2 L78,30.6" stroke="#f5ccf0" stroke-width="0.9"/>
</g></g>
<rect x="187.7" y="220.0" width="21.8" height="11.8" fill="#fff"/>
<text x="198.6" y="229.0" font-size="8.6" text-anchor="middle" font-weight="normal" fill="#222" >00</text>
<clipPath id="c12"><rect x="186.1" y="330.2" width="100.9" height="50.1"/></clipPath>
<g clip-path="url(#c12)"><g transform="translate(186.1,330.2)">
<rect x="-3" y="-3" width="106.9" height="56.1" fill="#3d4045"/>
<rect x="-3" y="-3" width="106.9" height="20.6" fill="#f5c9ef"/>
<rect x="-3" y="1" width="48" height="16.6" fill="#8c9a8e"/>
<rect x="22" y="2" width="9" height="15" fill="#5d6a60"/>
<rect x="33" y="4" width="6" height="12" fill="#a9b9a6"/>
<rect x="40" y="4" width="18" height="5" fill="#b7c7c4"/>
<rect x="40" y="9" width="30" height="3" fill="#f5c9ef"/>
<rect x="44" y="12" width="22" height="4.5" fill="#a9c4ae"/>
<rect x="-3" y="-3" width="106.9" height="4.8" fill="#4f5763"/>
<rect x="76.3" y="4" width="3.2" height="11" fill="#7c9a86"/>
<rect x="80.5" y="6" width="1.2" height="12" fill="#a9bdb4"/>
<rect x="-3" y="17.4" width="106.9" height="4.5" fill="#4a4d52"/>
<path d="M-3,18 L30,18" stroke="#c9cdd0" stroke-width="0.8"/>
<path d="M23,19.6 L52,19.8 L78,27.8 L76.5,30 L62,25.6 L50,22.2 L27,21 Z" fill="#f5ccf0"/>
<path d="M52,25 L70,30.8" stroke="#f5ccf0" stroke-width="2.0"/>
<rect x="19" y="17.2" width="63" height="2.9" fill="#f5ccf0"/>
<path d="M54,20.4 L80,20.6 L80,24.6 L67,23.6 Z" fill="#4a4d52"/>
<g transform="translate(-7,0)">
<rect x="30.5" y="16.2" width="3.6" height="3.6" rx="1" fill="#d9a9c9"/>
<path d="M-14,36 C-4,30 6,24 17,21 L30,20.4 L50,21 C58,23 66,27.5 74,32 L80,38 L80,53 L-14,53 Z" fill="#5c4533"/>
<path d="M-14,33 L60,29.6 L76,33.5 L76,42 L-14,44 Z" fill="#70543e"/>
<path d="M-12,36 C-2,29 6,23.2 17.5,20.2 L30,19.4 L50,20" fill="none" stroke="#f5ccf0" stroke-width="2.3"/>
<path d="M8,28.6 C13,24.2 18,21.8 26,21.3 L48,21.6 C53,22.8 58,25.4 62,28.8 Z" fill="#25272c"/>
<path d="M11,29.3 L60,29.2" stroke="#8d9092" stroke-width="0.7" opacity="0.8"/>
<rect x="7.5" y="27.3" width="5" height="3.6" rx="1.5" fill="#25272c"/>
<rect x="8.3" y="27" width="3.4" height="1.1" fill="#f5ccf0"/>
<rect x="-14" y="44.5" width="96" height="9" fill="#2a2823" opacity="0.8"/>
<rect x="7" y="36.4" width="13" height="2.8" rx="1.2" fill="#a9cdbf" opacity="0.9"/>
<circle cx="55.6" cy="47.4" r="7.6" fill="#1c1e20"/>
<circle cx="55.6" cy="47.6" r="4.2" fill="#5f6668"/>
<circle cx="55.6" cy="47.6" r="1.4" fill="#2a2c2f"/>
</g>
<path d="M79,53 L83,40 L88.5,22 L92.5,7 L96,5.6 L96,11 L104,9 L104,53 Z" fill="#f5ccf0"/>
<path d="M85,40 L90.4,20 L93.6,9" fill="none" stroke="#b9c3c6" stroke-width="0.9" opacity="0.8"/>
<path d="M92.4,17.4 L104,15 L104,31.4 L89.2,31.6 Z" fill="#2a2d38"/>
<path d="M75.5,53 L78,47.5 C84,42.5 94,40.2 104,40 L104,53 Z" fill="#292d39"/>
<path d="M65.5,35 C67,31.6 72,30.6 78.6,31.4 C79,35 77.5,39 74.5,40.2 C70,40.6 66,39 65.5,35 Z" fill="#1b1d22"/>
<path d="M64.5,31.2 L78,30.6" stroke="#f5ccf0" stroke-width="0.9"/>
</g></g>
<rect x="187.7" y="332.09999999999997" width="21.8" height="11.8" fill="#fff"/>
<text x="198.6" y="341.09999999999997" font-size="8.6" text-anchor="middle" font-weight="normal" fill="#222" >n</text>
<rect x="224.8" y="365.8" width="21" height="12.1" fill="none" stroke="#f2f2f2" stroke-width="0.9"/>
<clipPath id="c13"><rect x="186.1" y="430.7" width="100.9" height="50.1"/></clipPath>
<g clip-path="url(#c13)"><g transform="translate(186.1,430.7)">
<rect x="-3" y="-3" width="106.9" height="56.1" fill="#3d4045"/>
<rect x="-3" y="-3" width="106.9" height="20.6" fill="#f5c9ef"/>
<rect x="-3" y="1" width="48" height="16.6" fill="#8c9a8e"/>
<rect x="22" y="2" width="9" height="15" fill="#5d6a60"/>
<rect x="33" y="4" width="6" height="12" fill="#a9b9a6"/>
<rect x="40" y="4" width="18" height="5" fill="#b7c7c4"/>
<rect x="40" y="9" width="30" height="3" fill="#f5c9ef"/>
<rect x="44" y="12" width="22" height="4.5" fill="#a9c4ae"/>
<rect x="-3" y="-3" width="106.9" height="4.8" fill="#4f5763"/>
<rect x="76.3" y="4" width="3.2" height="11" fill="#7c9a86"/>
<rect x="80.5" y="6" width="1.2" height="12" fill="#a9bdb4"/>
<rect x="-3" y="17.4" width="106.9" height="4.5" fill="#4a4d52"/>
<path d="M-3,18 L30,18" stroke="#c9cdd0" stroke-width="0.8"/>
<path d="M19,19.6 L52,19.8 L78,27.8 L76.5,30 L62,25.6 L50,22.2 L23,21 Z" fill="#f5ccf0"/>
<path d="M52,25 L70,30.8" stroke="#f5ccf0" stroke-width="2.0"/>
<rect x="15" y="17.2" width="67" height="2.9" fill="#f5ccf0"/>
<path d="M54,20.4 L80,20.6 L80,24.6 L67,23.6 Z" fill="#4a4d52"/>
<g transform="translate(-11,0)">
<rect x="30.5" y="16.2" width="3.6" height="3.6" rx="1" fill="#d9a9c9"/>
<path d="M-14,36 C-4,30 6,24 17,21 L30,20.4 L50,21 C58,23 66,27.5 74,32 L80,38 L80,53 L-14,53 Z" fill="#5c4533"/>
<path d="M-14,33 L60,29.6 L76,33.5 L76,42 L-14,44 Z" fill="#70543e"/>
<path d="M-12,36 C-2,29 6,23.2 17.5,20.2 L30,19.4 L50,20" fill="none" stroke="#f5ccf0" stroke-width="2.3"/>
<path d="M8,28.6 C13,24.2 18,21.8 26,21.3 L48,21.6 C53,22.8 58,25.4 62,28.8 Z" fill="#25272c"/>
<path d="M11,29.3 L60,29.2" stroke="#8d9092" stroke-width="0.7" opacity="0.8"/>
<rect x="7.5" y="27.3" width="5" height="3.6" rx="1.5" fill="#25272c"/>
<rect x="8.3" y="27" width="3.4" height="1.1" fill="#f5ccf0"/>
<rect x="-14" y="44.5" width="96" height="9" fill="#2a2823" opacity="0.8"/>
<rect x="7" y="36.4" width="13" height="2.8" rx="1.2" fill="#a9cdbf" opacity="0.9"/>
<circle cx="55.6" cy="47.4" r="7.6" fill="#1c1e20"/>
<circle cx="55.6" cy="47.6" r="4.2" fill="#5f6668"/>
<circle cx="55.6" cy="47.6" r="1.4" fill="#2a2c2f"/>
</g>
<path d="M79,53 L83,40 L88.5,22 L92.5,7 L96,5.6 L96,11 L104,9 L104,53 Z" fill="#f5ccf0"/>
<path d="M85,40 L90.4,20 L93.6,9" fill="none" stroke="#b9c3c6" stroke-width="0.9" opacity="0.8"/>
<path d="M92.4,17.4 L104,15 L104,31.4 L89.2,31.6 Z" fill="#2a2d38"/>
<path d="M75.5,53 L78,47.5 C84,42.5 94,40.2 104,40 L104,53 Z" fill="#292d39"/>
<path d="M65.5,35 C67,31.6 72,30.6 78.6,31.4 C79,35 77.5,39 74.5,40.2 C70,40.6 66,39 65.5,35 Z" fill="#1b1d22"/>
<path d="M64.5,31.2 L78,30.6" stroke="#f5ccf0" stroke-width="0.9"/>
</g></g>
<rect x="187.7" y="432.59999999999997" width="21.8" height="11.8" fill="#fff"/>
<text x="198.6" y="441.59999999999997" font-size="8.6" text-anchor="middle" font-weight="normal" fill="#222" >25</text>
<rect x="235.5" y="301.3" width="1.5" height="1.5" fill="#111"/>
<rect x="235.5" y="303.90000000000003" width="1.5" height="1.5" fill="#111"/>
<rect x="235.5" y="306.50000000000006" width="1.5" height="1.5" fill="#111"/>
<rect x="235.5" y="401.3" width="1.5" height="1.5" fill="#111"/>
<rect x="235.5" y="403.90000000000003" width="1.5" height="1.5" fill="#111"/>
<rect x="235.5" y="406.50000000000006" width="1.5" height="1.5" fill="#111"/>
<clipPath id="c14"><rect x="289.4" y="261.0" width="37.6" height="28.0"/></clipPath>
<g clip-path="url(#c14)"><g filter="url(#b08)">
<rect x="287.4" y="259.0" width="41.6" height="32.0" fill="#5a4939"/>
<rect x="322.5" y="259.0" width="7" height="11.76" fill="#33383a"/>
<circle cx="307.072" cy="283.96" r="19.6" fill="#1d2321"/>
<circle cx="307.072" cy="283.96" r="11.2" fill="#2b3431"/>
<line x1="308.5" y1="282.5" x2="314.6" y2="276.5" stroke="#8c9c95" stroke-width="1.9"/>
<line x1="309.1" y1="283.8" x2="317.6" y2="283.0" stroke="#8c9c95" stroke-width="1.9"/>
<line x1="308.7" y1="285.1" x2="315.8" y2="290.0" stroke="#8c9c95" stroke-width="1.9"/>
<line x1="307.6" y1="285.9" x2="309.8" y2="294.2" stroke="#8c9c95" stroke-width="1.9"/>
<line x1="306.2" y1="285.8" x2="302.6" y2="293.6" stroke="#8c9c95" stroke-width="1.9"/>
<line x1="305.3" y1="284.8" x2="297.5" y2="288.4" stroke="#8c9c95" stroke-width="1.9"/>
<line x1="305.1" y1="283.4" x2="296.8" y2="281.2" stroke="#8c9c95" stroke-width="1.9"/>
<line x1="305.9" y1="282.3" x2="301.0" y2="275.3" stroke="#8c9c95" stroke-width="1.9"/>
<line x1="307.2" y1="282.0" x2="308.0" y2="273.4" stroke="#8c9c95" stroke-width="1.9"/>
<circle cx="307.072" cy="283.96" r="2.4" fill="#3a4340"/>
</g>
<circle cx="315.3" cy="275.8" r="1.7" fill="#f4b41c"/>
</g>
<clipPath id="c15"><rect x="289.4" y="289.6" width="37.6" height="28.0"/></clipPath>
<g clip-path="url(#c15)"><g filter="url(#b08)">
<rect x="287.4" y="287.6" width="41.6" height="32.0" fill="#5a4939"/>
<rect x="322.5" y="287.6" width="7" height="11.76" fill="#33383a"/>
<circle cx="307.072" cy="312.56" r="19.6" fill="#1d2321"/>
<circle cx="307.072" cy="312.56" r="11.2" fill="#2b3431"/>
<line x1="308.1" y1="310.8" x2="312.4" y2="303.4" stroke="#8c9c95" stroke-width="1.9"/>
<line x1="309.0" y1="311.9" x2="317.0" y2="308.9" stroke="#8c9c95" stroke-width="1.9"/>
<line x1="309.0" y1="313.2" x2="317.0" y2="316.2" stroke="#8c9c95" stroke-width="1.9"/>
<line x1="308.1" y1="314.3" x2="312.4" y2="321.7" stroke="#8c9c95" stroke-width="1.9"/>
<line x1="306.7" y1="314.5" x2="305.2" y2="323.0" stroke="#8c9c95" stroke-width="1.9"/>
<line x1="305.5" y1="313.8" x2="299.0" y2="319.4" stroke="#8c9c95" stroke-width="1.9"/>
<line x1="305.1" y1="312.6" x2="296.5" y2="312.6" stroke="#8c9c95" stroke-width="1.9"/>
<line x1="305.5" y1="311.3" x2="299.0" y2="305.7" stroke="#8c9c95" stroke-width="1.9"/>
<line x1="306.7" y1="310.6" x2="305.2" y2="302.1" stroke="#8c9c95" stroke-width="1.9"/>
<circle cx="307.072" cy="312.56" r="2.4" fill="#3a4340"/>
</g>
<circle cx="312.9" cy="302.5" r="1.7" fill="#f4b41c"/>
</g>
<clipPath id="c16"><rect x="289.4" y="318.6" width="37.6" height="28.0"/></clipPath>
<g clip-path="url(#c16)"><g filter="url(#b08)">
<rect x="287.4" y="316.6" width="41.6" height="32.0" fill="#5a4939"/>
<rect x="322.5" y="316.6" width="7" height="11.76" fill="#33383a"/>
<circle cx="307.072" cy="341.56" r="19.6" fill="#1d2321"/>
<circle cx="307.072" cy="341.56" r="11.2" fill="#2b3431"/>
<line x1="307.4" y1="339.6" x2="308.7" y2="331.1" stroke="#8c9c95" stroke-width="1.9"/>
<line x1="308.6" y1="340.2" x2="315.1" y2="334.6" stroke="#8c9c95" stroke-width="1.9"/>
<line x1="309.1" y1="341.5" x2="317.7" y2="341.4" stroke="#8c9c95" stroke-width="1.9"/>
<line x1="308.6" y1="342.8" x2="315.3" y2="348.2" stroke="#8c9c95" stroke-width="1.9"/>
<line x1="307.5" y1="343.5" x2="309.1" y2="352.0" stroke="#8c9c95" stroke-width="1.9"/>
<line x1="306.1" y1="343.3" x2="301.9" y2="350.8" stroke="#8c9c95" stroke-width="1.9"/>
<line x1="305.2" y1="342.3" x2="297.2" y2="345.4" stroke="#8c9c95" stroke-width="1.9"/>
<line x1="305.2" y1="340.9" x2="297.0" y2="338.1" stroke="#8c9c95" stroke-width="1.9"/>
<line x1="306.0" y1="339.8" x2="301.6" y2="332.5" stroke="#8c9c95" stroke-width="1.9"/>
<circle cx="307.072" cy="341.56" r="2.4" fill="#3a4340"/>
</g>
<circle cx="308.9" cy="330.1" r="1.7" fill="#f4b41c"/>
</g>
<clipPath id="c17"><rect x="289.4" y="361.3" width="37.6" height="28.0"/></clipPath>
<g clip-path="url(#c17)"><g filter="url(#b08)">
<rect x="287.4" y="359.3" width="41.6" height="32.0" fill="#5a4939"/>
<rect x="322.5" y="359.3" width="7" height="11.76" fill="#33383a"/>
<circle cx="307.072" cy="384.26" r="19.6" fill="#1d2321"/>
<circle cx="307.072" cy="384.26" r="11.2" fill="#2b3431"/>
<line x1="307.1" y1="382.3" x2="307.4" y2="373.7" stroke="#8c9c95" stroke-width="1.9"/>
<line x1="308.4" y1="382.8" x2="314.2" y2="376.4" stroke="#8c9c95" stroke-width="1.9"/>
<line x1="309.1" y1="384.0" x2="317.6" y2="382.8" stroke="#8c9c95" stroke-width="1.9"/>
<line x1="308.8" y1="385.3" x2="316.1" y2="389.9" stroke="#8c9c95" stroke-width="1.9"/>
<line x1="307.7" y1="386.2" x2="310.3" y2="394.3" stroke="#8c9c95" stroke-width="1.9"/>
<line x1="306.3" y1="386.1" x2="303.1" y2="394.1" stroke="#8c9c95" stroke-width="1.9"/>
<line x1="305.3" y1="385.2" x2="297.7" y2="389.2" stroke="#8c9c95" stroke-width="1.9"/>
<line x1="305.1" y1="383.8" x2="296.7" y2="382.1" stroke="#8c9c95" stroke-width="1.9"/>
<line x1="305.8" y1="382.7" x2="300.5" y2="375.9" stroke="#8c9c95" stroke-width="1.9"/>
<circle cx="307.072" cy="384.26" r="2.4" fill="#3a4340"/>
</g>
<circle cx="307.5" cy="372.7" r="1.7" fill="#f4b41c"/>
</g>
<clipPath id="c18"><rect x="289.4" y="390.4" width="37.6" height="28.0"/></clipPath>
<g clip-path="url(#c18)"><g filter="url(#b08)">
<rect x="287.4" y="388.4" width="41.6" height="32.0" fill="#5a4939"/>
<rect x="322.5" y="388.4" width="7" height="11.76" fill="#33383a"/>
<circle cx="307.072" cy="413.35999999999996" r="19.6" fill="#1d2321"/>
<circle cx="307.072" cy="413.35999999999996" r="11.2" fill="#2b3431"/>
<line x1="306.6" y1="411.4" x2="304.5" y2="403.1" stroke="#8c9c95" stroke-width="1.9"/>
<line x1="307.9" y1="411.6" x2="311.7" y2="403.8" stroke="#8c9c95" stroke-width="1.9"/>
<line x1="308.9" y1="412.5" x2="316.8" y2="409.0" stroke="#8c9c95" stroke-width="1.9"/>
<line x1="309.0" y1="413.9" x2="317.3" y2="416.3" stroke="#8c9c95" stroke-width="1.9"/>
<line x1="308.2" y1="415.0" x2="313.0" y2="422.1" stroke="#8c9c95" stroke-width="1.9"/>
<line x1="306.9" y1="415.3" x2="306.0" y2="423.9" stroke="#8c9c95" stroke-width="1.9"/>
<line x1="305.6" y1="414.7" x2="299.4" y2="420.7" stroke="#8c9c95" stroke-width="1.9"/>
<line x1="305.1" y1="413.5" x2="296.5" y2="414.1" stroke="#8c9c95" stroke-width="1.9"/>
<line x1="305.5" y1="412.2" x2="298.5" y2="407.1" stroke="#8c9c95" stroke-width="1.9"/>
<circle cx="307.072" cy="413.35999999999996" r="2.4" fill="#3a4340"/>
</g>
<circle cx="304.3" cy="402.1" r="1.7" fill="#f4b41c"/>
</g>
<clipPath id="c19"><rect x="289.4" y="419.6" width="37.6" height="28.0"/></clipPath>
<g clip-path="url(#c19)"><g filter="url(#b08)">
<rect x="287.4" y="417.6" width="41.6" height="32.0" fill="#5a4939"/>
<rect x="322.5" y="417.6" width="7" height="11.76" fill="#33383a"/>
<circle cx="307.072" cy="442.56" r="19.6" fill="#1d2321"/>
<circle cx="307.072" cy="442.56" r="11.2" fill="#2b3431"/>
<line x1="306.1" y1="440.8" x2="302.1" y2="433.2" stroke="#8c9c95" stroke-width="1.9"/>
<line x1="307.5" y1="440.6" x2="309.3" y2="432.2" stroke="#8c9c95" stroke-width="1.9"/>
<line x1="308.6" y1="441.3" x2="315.4" y2="436.0" stroke="#8c9c95" stroke-width="1.9"/>
<line x1="309.1" y1="442.6" x2="317.7" y2="442.9" stroke="#8c9c95" stroke-width="1.9"/>
<line x1="308.6" y1="443.9" x2="314.9" y2="449.7" stroke="#8c9c95" stroke-width="1.9"/>
<line x1="307.4" y1="444.5" x2="308.5" y2="453.1" stroke="#8c9c95" stroke-width="1.9"/>
<line x1="306.0" y1="444.3" x2="301.5" y2="451.5" stroke="#8c9c95" stroke-width="1.9"/>
<line x1="305.2" y1="443.2" x2="297.0" y2="445.8" stroke="#8c9c95" stroke-width="1.9"/>
<line x1="305.2" y1="441.8" x2="297.2" y2="438.6" stroke="#8c9c95" stroke-width="1.9"/>
<circle cx="307.072" cy="442.56" r="2.4" fill="#3a4340"/>
</g>
<circle cx="301.6" cy="432.3" r="1.7" fill="#f4b41c"/>
</g>
<text x="308" y="355.4" font-size="6" text-anchor="middle" font-weight="bold" fill="#222" >···</text>
<text x="370" y="206" font-size="9.5" text-anchor="middle" font-weight="bold" fill="#111" >d</text>
<text x="394" y="233.6" font-size="8.3" text-anchor="middle" font-weight="normal" fill="#222" >TD</text>
<text x="393.4" y="278.4" font-size="8.3" text-anchor="middle" font-weight="normal" fill="#222" >SD</text>
<text x="370.8" y="244.3" font-size="8.3" text-anchor="middle" font-weight="normal" fill="#222" >AOP:</text>
<text x="370.8" y="254.5" font-size="8.3" text-anchor="middle" font-weight="normal" fill="#222" >1,515 fps</text>
<text x="370.8" y="264.7" font-size="8.3" text-anchor="middle" font-weight="normal" fill="#222" >±7-bit</text>
<rect x="405.3" y="215.5" width="69.3" height="79.8" fill="none" stroke="#111" stroke-width="1.25" stroke-dasharray="2.2 1.43"/>
<clipPath id="c20"><rect x="408.40000000000003" y="218.1" width="63.4" height="32.5"/></clipPath>
<rect x="408.40000000000003" y="218.1" width="63.4" height="32.5" fill="#fff"/>
<g clip-path="url(#c20)">
<g filter="url(#b06)"><path d="M408.40000000000003,231.1 L420.40000000000003,229.1 L434.40000000000003,225.1 L440.40000000000003,224.1 C443.40000000000003,232.1 442.40000000000003,242.1 438.40000000000003,249.1 L430.40000000000003,249.1 L422.40000000000003,242.1 L408.40000000000003,240.1 Z" fill="#6deef6" opacity="0.95"/><path d="M441.40000000000003,240.1 L449.40000000000003,241.1" stroke="#6fe8f2" stroke-width="1.6"/></g>
</g>
<rect x="408.40000000000003" y="218.1" width="63.4" height="32.5" fill="none" stroke="#222" stroke-width="0.9"/>
<clipPath id="c21"><rect x="408.40000000000003" y="260.3" width="63.4" height="32.5"/></clipPath>
<rect x="408.40000000000003" y="260.3" width="63.4" height="32.5" fill="#fff"/>
<g clip-path="url(#c21)">
<g filter="url(#b03)" fill="none" stroke="#8f8ff0" stroke-width="0.9" opacity="0.9"><path d="M410.40000000000003,279.3 L414.40000000000003,277.3 L420.40000000000003,278.8 L426.40000000000003,278.3 L430.40000000000003,279.3"/><path d="M441.40000000000003,271.3 L441.90000000000003,283.3 L449.40000000000003,283.8 M441.90000000000003,283.3 L436.40000000000003,291.3"/><path d="M418.40000000000003,261.3 L421.40000000000003,262.3"/></g>
</g>
<rect x="408.40000000000003" y="260.3" width="63.4" height="32.5" fill="none" stroke="#222" stroke-width="0.9"/>
<rect x="478.0" y="215.5" width="69.3" height="79.8" fill="none" stroke="#111" stroke-width="1.25" stroke-dasharray="2.2 1.43"/>
<clipPath id="c22"><rect x="481.1" y="218.1" width="63.4" height="32.5"/></clipPath>
<rect x="481.1" y="218.1" width="63.4" height="32.5" fill="#fff"/>
<g clip-path="url(#c22)">
<g filter="url(#b06)"><path d="M481.1,230.1 L491.1,232.1 L503.1,236.1 L501.1,240.1 L489.1,240.1 L481.1,242.1 Z" fill="#6deef6" opacity="0.95"/><path d="M491.1,238.1 L511.1,239.1 L515.1,230.1 L510.1,228.1 L507.1,234.1 L512.1,240.1 L508.1,249.1 L501.1,245.1 Z" fill="#e04be0" opacity="0.85"/><path d="M511.1,233.1 L514.1,242.1 L521.1,240.1 M514.1,242.1 L510.1,248.1" stroke="#7fe9f2" stroke-width="1.2" fill="none"/></g>
</g>
<rect x="481.1" y="218.1" width="63.4" height="32.5" fill="none" stroke="#222" stroke-width="0.9"/>
<clipPath id="c23"><rect x="481.1" y="260.3" width="63.4" height="32.5"/></clipPath>
<rect x="481.1" y="260.3" width="63.4" height="32.5" fill="#fff"/>
<g clip-path="url(#c23)">
<g filter="url(#b03)" fill="none" stroke="#8f8ff0" stroke-width="0.9" opacity="0.9"><path d="M482.1,270.3 L486.1,272.3 L485.1,277.3 L490.1,279.3 L488.1,284.3 L482.1,282.3"/><path d="M490.1,279.3 L501.1,279.3 L511.1,282.3"/><path d="M513.1,265.3 L513.6,282.8 L521.1,283.3 M513.6,282.8 L509.1,291.3"/><path d="M491.1,261.3 L494.1,262.3"/></g>
</g>
<rect x="481.1" y="260.3" width="63.4" height="32.5" fill="none" stroke="#222" stroke-width="0.9"/>
<rect x="550.4" y="215.5" width="69.3" height="79.8" fill="none" stroke="#111" stroke-width="1.25" stroke-dasharray="2.2 1.43"/>
<clipPath id="c24"><rect x="553.5" y="218.1" width="63.4" height="32.5"/></clipPath>
<rect x="553.5" y="218.1" width="63.4" height="32.5" fill="#fff"/>
<g clip-path="url(#c24)">
<g filter="url(#b06)"><path d="M553.5,218.1 L581.5,218.1 C588.5,228.1 588.5,240.1 582.5,250.7 L553.5,250.7 Z" fill="#f2b3f2" opacity="0.9"/><path d="M553.5,226.1 L561.5,227.1 L567.5,232.1 L575.5,234.1 L582.5,232.1 L586.5,240.1 L594.5,241.1 L586.5,243.1 L581.5,248.1 L573.5,240.1 L561.5,242.1 L553.5,244.1 Z" fill="#e33ce3"/><ellipse cx="606.5" cy="239.1" rx="4" ry="7.5" fill="none" stroke="#f3c3f3" stroke-width="2.6"/></g>
</g>
<rect x="553.5" y="218.1" width="63.4" height="32.5" fill="none" stroke="#222" stroke-width="0.9"/>
<clipPath id="c25"><rect x="553.5" y="260.3" width="63.4" height="32.5"/></clipPath>
<rect x="553.5" y="260.3" width="63.4" height="32.5" fill="#fff"/>
<g clip-path="url(#c25)">
<g filter="url(#b03)" fill="none" stroke="#d9d9f7" stroke-width="0.8"><path d="M585.5,280.3 L584.5,286.3"/><path d="M563.5,261.3 L566.5,262.3"/></g>
</g>
<rect x="553.5" y="260.3" width="63.4" height="32.5" fill="none" stroke="#222" stroke-width="0.9"/>
<rect x="424.3" y="303.1" width="182.7" height="89.19999999999999" fill="#e8e8e8"/>
<rect x="550.2" y="321.3" width="68.79999999999995" height="37" fill="#fff"/>
<rect x="404.7" y="303.1" width="214.3" height="89.19999999999999" fill="none" stroke="#333" stroke-width="0.8"/>
<text x="400.09999999999997" y="396.1" font-size="8.3" text-anchor="end" font-weight="normal" fill="#222" >0</text>
<line x1="404.7" y1="370.0" x2="406.7" y2="370.0" stroke="#333" stroke-width="0.7"/>
<line x1="619.0" y1="370.0" x2="617.0" y2="370.0" stroke="#333" stroke-width="0.7"/>
<text x="400.09999999999997" y="373.3" font-size="8.3" text-anchor="end" font-weight="normal" fill="#222" >20</text>
<line x1="404.7" y1="347.7" x2="406.7" y2="347.7" stroke="#333" stroke-width="0.7"/>
<line x1="619.0" y1="347.7" x2="617.0" y2="347.7" stroke="#333" stroke-width="0.7"/>
<text x="400.09999999999997" y="350.5" font-size="8.3" text-anchor="end" font-weight="normal" fill="#222" >40</text>
<line x1="404.7" y1="325.4" x2="406.7" y2="325.4" stroke="#333" stroke-width="0.7"/>
<line x1="619.0" y1="325.4" x2="617.0" y2="325.4" stroke="#333" stroke-width="0.7"/>
<text x="400.09999999999997" y="327.8" font-size="8.3" text-anchor="end" font-weight="normal" fill="#222" >60</text>
<text x="400.09999999999997" y="305.0" font-size="8.3" text-anchor="end" font-weight="normal" fill="#222" >80</text>
<line x1="446.8" y1="392.3" x2="446.8" y2="390.3" stroke="#333" stroke-width="0.7"/>
<line x1="446.8" y1="303.1" x2="446.8" y2="305.1" stroke="#333" stroke-width="0.7"/>
<text x="441.2" y="401.2" font-size="8.3" text-anchor="middle" font-weight="normal" fill="#222" >1</text>
<line x1="490.0" y1="392.3" x2="490.0" y2="390.3" stroke="#333" stroke-width="0.7"/>
<line x1="490.0" y1="303.1" x2="490.0" y2="305.1" stroke="#333" stroke-width="0.7"/>
<text x="486.3" y="401.2" font-size="8.3" text-anchor="middle" font-weight="normal" fill="#222" >2</text>
<line x1="533.0" y1="392.3" x2="533.0" y2="390.3" stroke="#333" stroke-width="0.7"/>
<line x1="533.0" y1="303.1" x2="533.0" y2="305.1" stroke="#333" stroke-width="0.7"/>
<text x="531.4" y="401.2" font-size="8.3" text-anchor="middle" font-weight="normal" fill="#222" >3</text>
<line x1="576.0" y1="392.3" x2="576.0" y2="390.3" stroke="#333" stroke-width="0.7"/>
<line x1="576.0" y1="303.1" x2="576.0" y2="305.1" stroke="#333" stroke-width="0.7"/>
<text x="576.4" y="401.2" font-size="8.3" text-anchor="middle" font-weight="normal" fill="#222" >4</text>
<text x="512.2" y="411.8" font-size="8.3" text-anchor="middle" font-weight="normal" fill="#222" >Time (ms)</text>
<text transform="translate(388.4,346) rotate(-90)" font-size="8.3" text-anchor="middle" fill="#222">Bandwidth (MB/s)</text>
<g stroke="#111" stroke-width="1.25" fill="none">
<line x1="440.2" y1="295.6" x2="469.8" y2="353.4"/>
<line x1="509.6" y1="295.6" x2="498.1" y2="362.2"/>
<line x1="584.8" y1="295.6" x2="526.6" y2="334.6"/>
<line x1="415.2" y1="394" x2="430" y2="443.5"/>
<line x1="611.6" y1="378.5" x2="587.8" y2="398.6"/>
</g>
<line x1="404.7" y1="388.3" x2="619.0" y2="388.3" stroke="#8e9a2f" stroke-width="1.7"/>
<polyline points="404.7,390.8 413.4,390.8 441.5,390.8 469.8,353.4 498.1,362.2 526.6,334.6 554.9,370.7 583.3,381.7 611.6,383.0 619.0,384.2" fill="none" stroke="#2e7ea5" stroke-width="1.75" stroke-linejoin="round"/>
<circle cx="413.4" cy="390.8" r="2.6" fill="#2e7ea5"/>
<circle cx="441.5" cy="390.8" r="2.6" fill="#2e7ea5"/>
<circle cx="469.8" cy="353.4" r="2.6" fill="#2e7ea5"/>
<circle cx="498.1" cy="362.2" r="2.6" fill="#2e7ea5"/>
<circle cx="526.6" cy="334.6" r="2.6" fill="#2e7ea5"/>
<circle cx="554.9" cy="370.7" r="2.6" fill="#2e7ea5"/>
<circle cx="583.3" cy="381.7" r="2.6" fill="#2e7ea5"/>
<circle cx="611.6" cy="383.0" r="2.6" fill="#2e7ea5"/>
<polyline points="404.7,389.5 413.4,389.5 441.5,389.5 469.8,381.0 498.1,375.7 526.6,388.0 554.9,383.5 583.3,377.7 611.6,377.7 619.0,378" fill="none" stroke="#9c3b20" stroke-width="1.75" stroke-linejoin="round"/>
<circle cx="413.4" cy="389.5" r="2.6" fill="#9c3b20"/>
<circle cx="441.5" cy="389.5" r="2.6" fill="#9c3b20"/>
<circle cx="469.8" cy="381.0" r="2.6" fill="#9c3b20"/>
<circle cx="498.1" cy="375.7" r="2.6" fill="#9c3b20"/>
<circle cx="526.6" cy="388.0" r="2.6" fill="#9c3b20"/>
<circle cx="554.9" cy="383.5" r="2.6" fill="#9c3b20"/>
<circle cx="583.3" cy="377.7" r="2.6" fill="#9c3b20"/>
<circle cx="611.6" cy="377.7" r="2.6" fill="#9c3b20"/>
<line x1="553.4" y1="328.8" x2="571.6" y2="328.8" stroke="#2e7ea5" stroke-width="1.8"/>
<text x="594.5" y="332.6" font-size="8.3" text-anchor="middle" font-weight="normal" fill="#222" >AOP-TD</text>
<line x1="553.4" y1="340.2" x2="571.6" y2="340.2" stroke="#9c3b20" stroke-width="1.8"/>
<text x="594.5" y="342.9" font-size="8.3" text-anchor="middle" font-weight="normal" fill="#222" >AOP-SD</text>
<line x1="553.4" y1="351.7" x2="571.6" y2="351.7" stroke="#8e9a2f" stroke-width="1.8"/>
<text x="594.5" y="353.2" font-size="8.3" text-anchor="middle" font-weight="normal" fill="#222" >COP</text>
<text x="370.6" y="455.2" font-size="8.3" text-anchor="middle" font-weight="normal" fill="#222" >COP:</text>
<text x="370.6" y="465.4" font-size="8.3" text-anchor="middle" font-weight="normal" fill="#222" >30 fps</text>
<clipPath id="c26"><rect x="401.2" y="443.4" width="62.4" height="31"/></clipPath>
<g clip-path="url(#c26)">
<rect x="400.2" y="442.4" width="64.4" height="33" fill="#3b4543"/>
<rect x="400.2" y="442.4" width="64.4" height="2.2" fill="#2e3534"/>
<rect x="400.2" y="472.0" width="64.4" height="3.4" fill="#262c2b"/>
<radialGradient id="gg0" gradientUnits="userSpaceOnUse" cx="411.5" cy="460.29999999999995" r="24.5"><stop offset="0" stop-color="#a8999f"/><stop offset="0.6" stop-color="#7f8280"/><stop offset="1" stop-color="#626b68"/></radialGradient>
<circle cx="409.5" cy="460.29999999999995" r="24.5" fill="url(#gg0)"/>
<path d="M407.0,461.1 L403.2,454.4 L396.7,446.1 L393.2,442.0 M403.2,454.4 L398.0,445.9 M407.0,461.1 L403.8,453.9 L400.7,446.7 L399.1,438.1 M403.8,453.9 L402.5,446.0 M407.0,461.1 L406.8,451.4 L405.8,445.4 L404.9,436.2 M406.8,451.4 L403.9,447.8 M407.0,461.1 L410.1,451.8 L409.3,445.2 L412.8,436.0 M410.1,451.8 L411.8,444.8 M407.0,461.1 L409.5,453.1 L413.0,446.5 L417.0,437.0 M409.5,453.1 L413.7,444.1 M407.0,461.1 L413.1,455.7 L421.3,448.1 L425.6,441.9 M413.1,455.7 L422.5,449.7 M407.0,461.1 L416.8,455.0 L422.5,452.6 L430.7,448.0 M416.8,455.0 L421.0,453.3 M407.0,461.1 L417.1,457.7 L422.7,455.1 L432.3,451.3 M417.1,457.7 L421.2,452.7 M407.0,461.1 L415.3,459.9 L426.8,461.3 L434.0,460.2 M415.3,459.9 L422.9,463.5 M407.0,461.1 L415.7,463.8 L425.5,463.1 L433.5,465.1 M415.7,463.8 L424.5,462.2 M407.0,461.1 L416.9,463.6 L422.9,469.7 L430.8,472.4 M416.9,463.6 L422.1,473.6 M407.0,461.1 L415.2,468.4 L420.6,474.4 L426.0,478.4 M415.2,468.4 L420.2,477.1 M407.0,461.1 L410.7,468.8 L415.0,475.9 L417.5,483.5 M410.7,468.8 L411.7,477.9 M407.0,461.1 L409.1,470.2 L409.8,475.1 L413.0,484.5 M409.1,470.2 L406.8,475.8 M407.0,461.1 L405.7,469.1 L407.6,476.0 L405.4,484.5 M405.7,469.1 L406.9,479.0 M407.0,461.1 L402.9,468.2 L400.4,473.6 L397.5,481.6 M402.9,468.2 L399.5,472.1 M407.0,461.1 L400.9,467.0 L398.1,473.3 L391.2,476.5 M400.9,467.0 L397.1,474.1" fill="none" stroke="#ecc6d6" stroke-width="2.20" opacity="0.45" filter="url(#b08)"/>
<path d="M407.0,461.1 L403.2,454.4 L396.7,446.1 L393.2,442.0 M403.2,454.4 L398.0,445.9 M407.0,461.1 L403.8,453.9 L400.7,446.7 L399.1,438.1 M403.8,453.9 L402.5,446.0 M407.0,461.1 L406.8,451.4 L405.8,445.4 L404.9,436.2 M406.8,451.4 L403.9,447.8 M407.0,461.1 L410.1,451.8 L409.3,445.2 L412.8,436.0 M410.1,451.8 L411.8,444.8 M407.0,461.1 L409.5,453.1 L413.0,446.5 L417.0,437.0 M409.5,453.1 L413.7,444.1 M407.0,461.1 L413.1,455.7 L421.3,448.1 L425.6,441.9 M413.1,455.7 L422.5,449.7 M407.0,461.1 L416.8,455.0 L422.5,452.6 L430.7,448.0 M416.8,455.0 L421.0,453.3 M407.0,461.1 L417.1,457.7 L422.7,455.1 L432.3,451.3 M417.1,457.7 L421.2,452.7 M407.0,461.1 L415.3,459.9 L426.8,461.3 L434.0,460.2 M415.3,459.9 L422.9,463.5 M407.0,461.1 L415.7,463.8 L425.5,463.1 L433.5,465.1 M415.7,463.8 L424.5,462.2 M407.0,461.1 L416.9,463.6 L422.9,469.7 L430.8,472.4 M416.9,463.6 L422.1,473.6 M407.0,461.1 L415.2,468.4 L420.6,474.4 L426.0,478.4 M415.2,468.4 L420.2,477.1 M407.0,461.1 L410.7,468.8 L415.0,475.9 L417.5,483.5 M410.7,468.8 L411.7,477.9 M407.0,461.1 L409.1,470.2 L409.8,475.1 L413.0,484.5 M409.1,470.2 L406.8,475.8 M407.0,461.1 L405.7,469.1 L407.6,476.0 L405.4,484.5 M405.7,469.1 L406.9,479.0 M407.0,461.1 L402.9,468.2 L400.4,473.6 L397.5,481.6 M402.9,468.2 L399.5,472.1 M407.0,461.1 L400.9,467.0 L398.1,473.3 L391.2,476.5 M400.9,467.0 L397.1,474.1" fill="none" stroke="#ecc6d6" stroke-width="0.80" stroke-linejoin="round"/>
<circle cx="407.0" cy="461.09999999999997" r="2.4" fill="#ecc6d6" filter="url(#b08)"/>
<rect x="405.6" y="464.09999999999997" width="2.6" height="31" fill="#2a2326"/>
<rect x="446.8" y="451.59999999999997" width="17.799999999999997" height="31" fill="#1d1f20"/>
<ellipse cx="453.40000000000003" cy="464.0" rx="5" ry="7.6" fill="#33302c"/>
<ellipse cx="453.40000000000003" cy="464.0" rx="3.4" ry="5.2" fill="none" stroke="#5a5046" stroke-width="0.8"/>
<ellipse cx="453.40000000000003" cy="464.0" rx="1.4" ry="2" fill="#17181a"/>
</g>
<line x1="463.6" y1="470.8" x2="546" y2="470.8" stroke="#111" stroke-width="1.3"/>
<polygon points="544.6,466.2 553.4,470.8 544.6,475.4" fill="#111"/>
<text x="507.6" y="443.4" font-size="8.3" text-anchor="middle" font-weight="normal" fill="#222" >Unpredictable</text>
<text x="507.6" y="453.6" font-size="8.3" text-anchor="middle" font-weight="normal" fill="#222" >lightning</text>
<text x="507.6" y="463.8" font-size="8.3" text-anchor="middle" font-weight="normal" fill="#222" >occurrence</text>
<rect x="553.8" y="403.2" width="69.8" height="72.8" fill="none" stroke="#111" stroke-width="1.25" stroke-dasharray="2.2 1.43"/>
<clipPath id="c27"><rect x="556.6" y="405.5" width="64" height="32"/></clipPath>
<rect x="556.6" y="405.5" width="64" height="32" fill="#fff"/>
<g clip-path="url(#c27)">
<g fill="none" stroke="#8a86ee" stroke-width="0.9" opacity="0.85"><path d="M564.6,420.9 L562.0,414.5 L560.2,407.5"/><path d="M564.6,420.9 L561.0,427.5 L559.8000000000001,435.5"/><path d="M564.6,420.9 L570.6,416.9 L576.6,412.9 L578.6,410.5"/><path d="M564.6,420.9 L572.6,418.5 L581.6,418.1 L586.6,421.9"/><path d="M564.6,420.9 L568.0,427.5 L570.2,435.5"/><path d="M568.0,427.5 L565.0,433.5"/><path d="M562.0,414.5 L565.0,408.5" stroke="#c9a4ea"/><path d="M572.6,418.5 L576.6,422.5" stroke="#d9a4e4"/><path d="M564.6,420.9 L558.0,418.5"/></g>
</g>
<rect x="556.6" y="405.5" width="64" height="32" fill="none" stroke="#222" stroke-width="0.9"/>
<text x="597.7" y="432.8" font-size="8.3" text-anchor="middle" font-weight="normal" fill="#222" >SD image</text>
<clipPath id="c28"><rect x="556.8" y="441.8" width="63" height="31"/></clipPath>
<g clip-path="url(#c28)">
<rect x="555.8" y="440.8" width="65" height="33" fill="#3b4543"/>
<rect x="555.8" y="440.8" width="65" height="2.2" fill="#2e3534"/>
<rect x="555.8" y="470.40000000000003" width="65" height="3.4" fill="#262c2b"/>
<radialGradient id="gg1" gradientUnits="userSpaceOnUse" cx="570.0999999999999" cy="456.8" r="22.7"><stop offset="0" stop-color="#cfc0c8"/><stop offset="0.6" stop-color="#a9a3a5"/><stop offset="1" stop-color="#8d9290"/></radialGradient>
<circle cx="568.0999999999999" cy="456.8" r="22.7" fill="url(#gg1)"/>
<path d="M564.0,460.2 L560.7,454.2 L557.9,447.7 L552.4,440.4 M560.7,454.2 L561.3,443.9 M564.0,460.2 L563.1,452.5 L561.0,442.8 L557.3,436.9 M563.1,452.5 L560.8,440.8 M564.0,460.2 L564.2,449.6 L562.8,441.8 L563.9,434.5 M564.2,449.6 L566.1,444.0 M564.0,460.2 L566.6,449.9 L567.7,441.0 L568.8,434.1 M566.6,449.9 L563.7,443.9 M564.0,460.2 L567.1,453.0 L573.3,442.5 L575.6,435.4 M567.1,453.0 L577.0,442.8 M564.0,460.2 L569.7,454.5 L577.8,448.2 L583.1,439.8 M569.7,454.5 L580.9,446.6 M564.0,460.2 L570.8,453.3 L577.6,448.2 L586.6,443.7 M570.8,453.3 L578.5,444.2 M564.0,460.2 L572.6,456.4 L583.0,453.9 L590.0,451.0 M572.6,456.4 L581.5,453.7 M564.0,460.2 L572.0,460.9 L580.3,459.5 L590.8,457.7 M572.0,460.9 L583.1,455.7 M564.0,460.2 L572.5,462.0 L579.3,461.4 L589.4,464.6 M572.5,462.0 L576.8,465.0 M564.0,460.2 L573.1,464.4 L581.9,465.0 L587.7,468.2 M573.1,464.4 L580.7,465.2 M564.0,460.2 L568.9,466.2 L577.1,471.8 L581.5,475.1 M568.9,466.2 L573.4,475.3 M564.0,460.2 L568.6,466.4 L575.5,471.0 L578.5,477.0 M568.6,466.4 L578.9,471.3 M564.0,460.2 L565.9,465.8 L567.2,471.8 L571.2,479.3 M565.9,465.8 L568.7,475.8 M564.0,460.2 L563.0,468.4 L564.9,472.8 L565.2,479.3 M563.0,468.4 L562.8,473.6 M564.0,460.2 L561.1,465.5 L556.9,472.7 L556.1,476.1 M561.1,465.5 L553.1,472.6 M564.0,460.2 L558.3,465.0 L557.0,468.6 L551.0,471.7 M558.3,465.0 L559.3,465.4" fill="none" stroke="#f7e6f0" stroke-width="2.75" opacity="0.45" filter="url(#b08)"/>
<path d="M564.0,460.2 L560.7,454.2 L557.9,447.7 L552.4,440.4 M560.7,454.2 L561.3,443.9 M564.0,460.2 L563.1,452.5 L561.0,442.8 L557.3,436.9 M563.1,452.5 L560.8,440.8 M564.0,460.2 L564.2,449.6 L562.8,441.8 L563.9,434.5 M564.2,449.6 L566.1,444.0 M564.0,460.2 L566.6,449.9 L567.7,441.0 L568.8,434.1 M566.6,449.9 L563.7,443.9 M564.0,460.2 L567.1,453.0 L573.3,442.5 L575.6,435.4 M567.1,453.0 L577.0,442.8 M564.0,460.2 L569.7,454.5 L577.8,448.2 L583.1,439.8 M569.7,454.5 L580.9,446.6 M564.0,460.2 L570.8,453.3 L577.6,448.2 L586.6,443.7 M570.8,453.3 L578.5,444.2 M564.0,460.2 L572.6,456.4 L583.0,453.9 L590.0,451.0 M572.6,456.4 L581.5,453.7 M564.0,460.2 L572.0,460.9 L580.3,459.5 L590.8,457.7 M572.0,460.9 L583.1,455.7 M564.0,460.2 L572.5,462.0 L579.3,461.4 L589.4,464.6 M572.5,462.0 L576.8,465.0 M564.0,460.2 L573.1,464.4 L581.9,465.0 L587.7,468.2 M573.1,464.4 L580.7,465.2 M564.0,460.2 L568.9,466.2 L577.1,471.8 L581.5,475.1 M568.9,466.2 L573.4,475.3 M564.0,460.2 L568.6,466.4 L575.5,471.0 L578.5,477.0 M568.6,466.4 L578.9,471.3 M564.0,460.2 L565.9,465.8 L567.2,471.8 L571.2,479.3 M565.9,465.8 L568.7,475.8 M564.0,460.2 L563.0,468.4 L564.9,472.8 L565.2,479.3 M563.0,468.4 L562.8,473.6 M564.0,460.2 L561.1,465.5 L556.9,472.7 L556.1,476.1 M561.1,465.5 L553.1,472.6 M564.0,460.2 L558.3,465.0 L557.0,468.6 L551.0,471.7 M558.3,465.0 L559.3,465.4" fill="none" stroke="#f7e6f0" stroke-width="1.00" stroke-linejoin="round"/>
<circle cx="564.0" cy="460.2" r="2.4" fill="#f7e6f0" filter="url(#b08)"/>
<rect x="562.6" y="463.2" width="2.6" height="31" fill="#2a2326"/>
<rect x="602.4" y="450.0" width="18.4" height="31" fill="#1d1f20"/>
<ellipse cx="609.0" cy="462.40000000000003" rx="5" ry="7.6" fill="#33302c"/>
<ellipse cx="609.0" cy="462.40000000000003" rx="3.4" ry="5.2" fill="none" stroke="#5a5046" stroke-width="0.8"/>
<ellipse cx="609.0" cy="462.40000000000003" rx="1.4" ry="2" fill="#17181a"/>
</g>
<g font-family="'Liberation Serif', serif" stroke="#111" stroke-width="0.25" style="word-spacing:-1.3px">
<text x="4" y="498.6" font-size="10.2" fill="#111" textLength="297.6" lengthAdjust="spacing" xml:space="preserve" style="stroke:#111;stroke-width:0.25px"><tspan font-weight="bold">Extended Data Fig. 5 | Chip characterization. a</tspan>, High-speed recording of an</text>
<text x="4" y="510.6" font-size="10.2" fill="#111" textLength="285" lengthAdjust="spacing" xml:space="preserve" style="stroke:#111;stroke-width:0.25px">unpredictable and fast-moving ping-pong ball shot by a machine. <tspan font-weight="bold">b</tspan>, Power</text>
<text x="4" y="522.8" font-size="10.2" fill="#111" textLength="293.5" lengthAdjust="spacing" xml:space="preserve" style="stroke:#111;stroke-width:0.25px">consumption of Tianmouc. The left half depicts the distribution of different</text>
<text x="4" y="535.0" font-size="10.2" fill="#111" textLength="279.5" lengthAdjust="spacing" xml:space="preserve" style="stroke:#111;stroke-width:0.25px">modules including pixel, analog, digital and interface circuits. The right</text>
<text x="324" y="498.6" font-size="10.2" fill="#111" textLength="305.5" lengthAdjust="spacing" xml:space="preserve" style="stroke:#111;stroke-width:0.25px">illustrates the total power consumption under different modes. <tspan font-weight="bold">c</tspan>, Anti-aliasing</text>
<text x="324" y="510.6" font-size="10.2" fill="#111" textLength="291" lengthAdjust="spacing" xml:space="preserve" style="stroke:#111;stroke-width:0.25px">reconstruction of the rotation of a wheel. The alias in the wheel recorded by</text>
<text x="324" y="522.8" font-size="10.2" fill="#111" textLength="306" lengthAdjust="spacing" xml:space="preserve" style="stroke:#111;stroke-width:0.25px">COP can be eliminated by the high-speed AOP. <tspan font-weight="bold">d</tspan>, the AOP of Tianmouc is able to</text>
<text x="324" y="535.0" font-size="10.2" fill="#111" textLength="271" lengthAdjust="spacing" xml:space="preserve" style="stroke:#111;stroke-width:0.25px">capture lightning that is missed by COP and record details of textures.</text>
</g>
<g opacity="0.7" fill="#c2c2c2" font-family="'Liberation Sans', 'Noto Sans CJK SC', sans-serif"><ellipse cx="480" cy="513" rx="6.4" ry="5.4"/><ellipse cx="487.6" cy="517.6" rx="5" ry="4.2"/><text x="494" y="520.6" font-size="15.5" textLength="122" lengthAdjust="spacing" style="stroke:none">公众号 · 量子位</text></g>
</svg>
</body></html>
